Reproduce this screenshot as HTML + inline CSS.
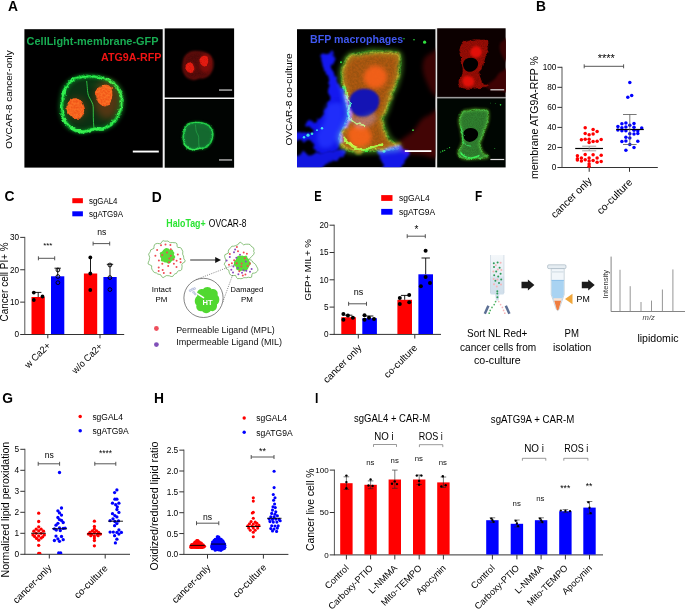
<!DOCTYPE html>
<html lang="en"><head><meta charset="utf-8"><title>Figure</title>
<style>
html,body{margin:0;padding:0;background:#fff;}
body{width:685px;height:609px;overflow:hidden;}
svg{display:block;font-family:'Liberation Sans', sans-serif;}
</style></head>
<body>
<svg width="685" height="609" viewBox="0 0 685 609">
<rect width="685" height="609" fill="#fff"/>
<text x="8.00" y="11.10" font-size="13.8" font-weight="bold">A</text>
<text x="536.00" y="10.90" font-size="13.8" font-weight="bold">B</text>
<text x="4.60" y="200.80" font-size="13.8" font-weight="bold">C</text>
<text x="151.80" y="201.60" font-size="13.8" font-weight="bold">D</text>
<text x="314.20" y="200.50" font-size="13.8" font-weight="bold" textLength="7.4" lengthAdjust="spacingAndGlyphs">E</text>
<text x="475.00" y="201.00" font-size="13.8" font-weight="bold" textLength="7.2" lengthAdjust="spacingAndGlyphs">F</text>
<text x="2.20" y="403.20" font-size="13.8" font-weight="bold">G</text>
<text x="153.90" y="403.30" font-size="13.8" font-weight="bold">H</text>
<text x="315.00" y="403.30" font-size="13.8" font-weight="bold" textLength="3.4" lengthAdjust="spacingAndGlyphs">I</text>
<defs>
<filter color-interpolation-filters="sRGB" id="redonly" x="0" y="0" width="100%" height="100%"><feColorMatrix type="matrix" values="0.95 0 0 0 0  0 0.3 0 0 0  0 0 0.6 0 0  0 0 0 1 0"/></filter>
<filter color-interpolation-filters="sRGB" id="fb05" x="-20%" y="-20%" width="140%" height="140%"><feGaussianBlur stdDeviation="0.5"/></filter>
<filter color-interpolation-filters="sRGB" id="fb1" x="-20%" y="-20%" width="140%" height="140%"><feGaussianBlur stdDeviation="1"/></filter>
<filter color-interpolation-filters="sRGB" id="fb2" x="-30%" y="-30%" width="160%" height="160%"><feGaussianBlur stdDeviation="2"/></filter>
<filter color-interpolation-filters="sRGB" id="fb4" x="-40%" y="-40%" width="180%" height="180%"><feGaussianBlur stdDeviation="4"/></filter>
<filter color-interpolation-filters="sRGB" id="rough" x="-20%" y="-20%" width="140%" height="140%"><feTurbulence type="fractalNoise" baseFrequency="0.18" numOctaves="2" seed="3" result="n"/><feDisplacementMap in="SourceGraphic" in2="n" scale="5" xChannelSelector="R" yChannelSelector="G"/><feGaussianBlur stdDeviation="0.55"/></filter>
<filter color-interpolation-filters="sRGB" id="rough2" x="-20%" y="-20%" width="140%" height="140%"><feTurbulence type="fractalNoise" baseFrequency="0.09" numOctaves="3" seed="11" result="n"/><feDisplacementMap in="SourceGraphic" in2="n" scale="9" xChannelSelector="R" yChannelSelector="G"/><feGaussianBlur stdDeviation="0.8"/></filter>
<filter color-interpolation-filters="sRGB" id="spiky" x="-20%" y="-20%" width="140%" height="140%"><feTurbulence type="fractalNoise" baseFrequency="0.33" numOctaves="2" seed="8" result="n"/><feDisplacementMap in="SourceGraphic" in2="n" scale="7" xChannelSelector="R" yChannelSelector="G"/><feGaussianBlur stdDeviation="0.5"/></filter>
<filter color-interpolation-filters="sRGB" id="speck" x="-10%" y="-10%" width="120%" height="120%"><feTurbulence type="fractalNoise" baseFrequency="0.45" numOctaves="2" seed="5" result="n"/><feColorMatrix in="n" type="matrix" values="0 0 0 0 0  0 0 0 0 0  0 0 0 0 0  2.6 0 0 0 -0.75" result="a"/><feComposite in="SourceGraphic" in2="a" operator="in"/><feGaussianBlur stdDeviation="0.45"/></filter>

<g id="c1g" transform="translate(67.6 75.0) scale(0.94 0.875) translate(-68.1 -77)">
<path d="M37.0 70.0C37.7 66.0 38.2 61.5 40.0 58.0C41.8 54.5 44.7 51.1 48.0 49.0C51.3 46.9 55.7 46.0 60.0 45.5C64.3 45.0 69.7 45.3 74.0 46.0C78.3 46.7 82.7 47.8 86.0 49.5C89.3 51.2 91.8 53.2 94.0 56.0C96.2 58.8 98.1 62.3 99.0 66.0C99.9 69.7 99.9 74.2 99.5 78.0C99.1 81.8 98.1 85.5 96.5 89.0C94.9 92.5 92.8 96.3 90.0 99.0C87.2 101.7 83.3 103.9 80.0 105.0C76.7 106.1 73.7 104.9 70.0 105.5C66.3 106.1 62.0 108.7 58.0 108.5C54.0 108.3 49.2 106.9 46.0 104.5C42.8 102.1 40.2 97.8 38.5 94.0C36.8 90.2 36.2 86.0 36.0 82.0C35.8 78.0 36.3 74.0 37.0 70.0Z" fill="#0b3012" filter="url(#fb1)"/>
<path d="M37.0 70.0C37.7 66.0 38.2 61.5 40.0 58.0C41.8 54.5 44.7 51.1 48.0 49.0C51.3 46.9 55.7 46.0 60.0 45.5C64.3 45.0 69.7 45.3 74.0 46.0C78.3 46.7 82.7 47.8 86.0 49.5C89.3 51.2 91.8 53.2 94.0 56.0C96.2 58.8 98.1 62.3 99.0 66.0C99.9 69.7 99.9 74.2 99.5 78.0C99.1 81.8 98.1 85.5 96.5 89.0C94.9 92.5 92.8 96.3 90.0 99.0C87.2 101.7 83.3 103.9 80.0 105.0C76.7 106.1 73.7 104.9 70.0 105.5C66.3 106.1 62.0 108.7 58.0 108.5C54.0 108.3 49.2 106.9 46.0 104.5C42.8 102.1 40.2 97.8 38.5 94.0C36.8 90.2 36.2 86.0 36.0 82.0C35.8 78.0 36.3 74.0 37.0 70.0Z" fill="none" stroke="#0a7a22" stroke-width="6" filter="url(#fb2)" opacity="0.75"/>
<path d="M37.0 70.0C37.7 66.0 38.2 61.5 40.0 58.0C41.8 54.5 44.7 51.1 48.0 49.0C51.3 46.9 55.7 46.0 60.0 45.5C64.3 45.0 69.7 45.3 74.0 46.0C78.3 46.7 82.7 47.8 86.0 49.5C89.3 51.2 91.8 53.2 94.0 56.0C96.2 58.8 98.1 62.3 99.0 66.0C99.9 69.7 99.9 74.2 99.5 78.0C99.1 81.8 98.1 85.5 96.5 89.0C94.9 92.5 92.8 96.3 90.0 99.0C87.2 101.7 83.3 103.9 80.0 105.0C76.7 106.1 73.7 104.9 70.0 105.5C66.3 106.1 62.0 108.7 58.0 108.5C54.0 108.3 49.2 106.9 46.0 104.5C42.8 102.1 40.2 97.8 38.5 94.0C36.8 90.2 36.2 86.0 36.0 82.0C35.8 78.0 36.3 74.0 37.0 70.0Z" fill="none" stroke="#0fae30" stroke-width="4.2" filter="url(#speck)"/>
<path d="M37.0 70.0C37.7 66.0 38.2 61.5 40.0 58.0C41.8 54.5 44.7 51.1 48.0 49.0C51.3 46.9 55.7 46.0 60.0 45.5C64.3 45.0 69.7 45.3 74.0 46.0C78.3 46.7 82.7 47.8 86.0 49.5C89.3 51.2 91.8 53.2 94.0 56.0C96.2 58.8 98.1 62.3 99.0 66.0C99.9 69.7 99.9 74.2 99.5 78.0C99.1 81.8 98.1 85.5 96.5 89.0C94.9 92.5 92.8 96.3 90.0 99.0C87.2 101.7 83.3 103.9 80.0 105.0C76.7 106.1 73.7 104.9 70.0 105.5C66.3 106.1 62.0 108.7 58.0 108.5C54.0 108.3 49.2 106.9 46.0 104.5C42.8 102.1 40.2 97.8 38.5 94.0C36.8 90.2 36.2 86.0 36.0 82.0C35.8 78.0 36.3 74.0 37.0 70.0Z" fill="none" stroke="#18c038" stroke-width="2.4" filter="url(#spiky)" opacity="0.9"/>
<path d="M37.0 70.0C37.7 66.0 38.2 61.5 40.0 58.0C41.8 54.5 44.7 51.1 48.0 49.0C51.3 46.9 55.7 46.0 60.0 45.5C64.3 45.0 69.7 45.3 74.0 46.0C78.3 46.7 82.7 47.8 86.0 49.5C89.3 51.2 91.8 53.2 94.0 56.0C96.2 58.8 98.1 62.3 99.0 66.0C99.9 69.7 99.9 74.2 99.5 78.0C99.1 81.8 98.1 85.5 96.5 89.0C94.9 92.5 92.8 96.3 90.0 99.0C87.2 101.7 83.3 103.9 80.0 105.0C76.7 106.1 73.7 104.9 70.0 105.5C66.3 106.1 62.0 108.7 58.0 108.5C54.0 108.3 49.2 106.9 46.0 104.5C42.8 102.1 40.2 97.8 38.5 94.0C36.8 90.2 36.2 86.0 36.0 82.0C35.8 78.0 36.3 74.0 37.0 70.0Z" fill="none" stroke="#30f050" stroke-width="1.7" filter="url(#rough)"/>
<path d="M37.5 93C41 102 49 108 58 108.6C64 108 70 105 75 105.4" fill="none" stroke="#38f050" stroke-width="2.6" filter="url(#rough)"/>
<path d="M62.4 50.4C63.5 60 63 64 64.9 68.5C67 73 69.2 76 69.4 80C69.6 88 69.2 96 70.2 104" fill="none" stroke="#2fd048" stroke-width="1.0" filter="url(#fb05)"/>
<path d="M66 52C78 50 90 56 93 66C88 60 78 56 66 58Z" fill="#0c3a14" filter="url(#fb2)"/>
</g>
<g id="c1r" transform="translate(67.6 75.0) scale(0.94 0.875) translate(-68.1 -77)">
<ellipse cx="84" cy="72" rx="13.5" ry="22" fill="#5a0a02" filter="url(#fb4)" opacity="0.85"/>
<ellipse cx="52" cy="82" rx="11" ry="13" fill="#4a0c02" filter="url(#fb4)" opacity="0.7"/>
<path d="M41 78C44 70 52 67.5 56.5 74C60 81 62 90 56 93C49 95.5 40 90 41 78Z" fill="#f03008" filter="url(#rough)"/>
<path d="M71 64C74 56 82 52 88 57C91 62 90 72 86 78C82 82 76 78 73 72Z" fill="#f03008" filter="url(#rough)"/>
<path d="M41 78C44 70 52 67.5 56.5 74C60 81 62 90 56 93C49 95.5 40 90 41 78Z" fill="#ff5a18" filter="url(#speck)" opacity="0.7"/>
<path d="M71 64C74 56 82 52 88 57C91 62 90 72 86 78C82 82 76 78 73 72Z" fill="#ff5a18" filter="url(#speck)" opacity="0.7"/>
</g>
<g id="c1ring" transform="translate(67.6 75.0) scale(0.94 0.875) translate(-68.1 -77)"><path d="M37.0 70.0C37.7 66.0 38.2 61.5 40.0 58.0C41.8 54.5 44.7 51.1 48.0 49.0C51.3 46.9 55.7 46.0 60.0 45.5C64.3 45.0 69.7 45.3 74.0 46.0C78.3 46.7 82.7 47.8 86.0 49.5C89.3 51.2 91.8 53.2 94.0 56.0C96.2 58.8 98.1 62.3 99.0 66.0C99.9 69.7 99.9 74.2 99.5 78.0C99.1 81.8 98.1 85.5 96.5 89.0C94.9 92.5 92.8 96.3 90.0 99.0C87.2 101.7 83.3 103.9 80.0 105.0C76.7 106.1 73.7 104.9 70.0 105.5C66.3 106.1 62.0 108.7 58.0 108.5C54.0 108.3 49.2 106.9 46.0 104.5C42.8 102.1 40.2 97.8 38.5 94.0C36.8 90.2 36.2 86.0 36.0 82.0C35.8 78.0 36.3 74.0 37.0 70.0Z" fill="#4c0908" stroke="#8a1410" stroke-width="2.6" filter="url(#fb2)"/><path d="M37.0 70.0C37.7 66.0 38.2 61.5 40.0 58.0C41.8 54.5 44.7 51.1 48.0 49.0C51.3 46.9 55.7 46.0 60.0 45.5C64.3 45.0 69.7 45.3 74.0 46.0C78.3 46.7 82.7 47.8 86.0 49.5C89.3 51.2 91.8 53.2 94.0 56.0C96.2 58.8 98.1 62.3 99.0 66.0C99.9 69.7 99.9 74.2 99.5 78.0C99.1 81.8 98.1 85.5 96.5 89.0C94.9 92.5 92.8 96.3 90.0 99.0C87.2 101.7 83.3 103.9 80.0 105.0C76.7 106.1 73.7 104.9 70.0 105.5C66.3 106.1 62.0 108.7 58.0 108.5C54.0 108.3 49.2 106.9 46.0 104.5C42.8 102.1 40.2 97.8 38.5 94.0C36.8 90.2 36.2 86.0 36.0 82.0C35.8 78.0 36.3 74.0 37.0 70.0Z" fill="#5a0c0a" filter="url(#speck)" opacity="0.8"/></g>
<g id="c1gx" transform="translate(67.6 75.0) scale(0.94 0.875) translate(-68.1 -77)"><path d="M37.0 70.0C37.7 66.0 38.2 61.5 40.0 58.0C41.8 54.5 44.7 51.1 48.0 49.0C51.3 46.9 55.7 46.0 60.0 45.5C64.3 45.0 69.7 45.3 74.0 46.0C78.3 46.7 82.7 47.8 86.0 49.5C89.3 51.2 91.8 53.2 94.0 56.0C96.2 58.8 98.1 62.3 99.0 66.0C99.9 69.7 99.9 74.2 99.5 78.0C99.1 81.8 98.1 85.5 96.5 89.0C94.9 92.5 92.8 96.3 90.0 99.0C87.2 101.7 83.3 103.9 80.0 105.0C76.7 106.1 73.7 104.9 70.0 105.5C66.3 106.1 62.0 108.7 58.0 108.5C54.0 108.3 49.2 106.9 46.0 104.5C42.8 102.1 40.2 97.8 38.5 94.0C36.8 90.2 36.2 86.0 36.0 82.0C35.8 78.0 36.3 74.0 37.0 70.0Z" fill="#0a4a20" filter="url(#fb1)"/></g>
<clipPath id="cpA1"><rect x="0" y="0" width="140.4" height="139.8"/></clipPath>
<clipPath id="cpA2"><rect x="0" y="0" width="138.4" height="138"/></clipPath>

<g id="c2b">
<path d="M24.2 27.5C24.6 26.1 25.3 24.0 27.0 23.4C28.7 22.8 33.2 22.5 34.6 23.6C36.0 24.7 35.4 27.6 35.6 30.0C35.8 32.4 35.7 35.3 36.0 38.0C36.3 40.7 36.5 43.3 37.2 46.0C38.0 48.7 39.0 51.5 40.5 54.0C42.0 56.5 44.1 59.0 46.0 61.0C47.9 63.0 50.4 63.8 52.0 66.0C53.6 68.2 54.8 71.0 55.5 74.0C56.2 77.0 56.6 80.7 56.0 84.0C55.4 87.3 53.8 91.2 52.0 94.0C50.2 96.8 47.7 100.2 45.0 101.0C42.3 101.8 38.3 100.8 36.0 99.0C33.7 97.2 31.8 93.8 31.0 90.0C30.2 86.2 31.2 80.7 31.5 76.0C31.8 71.3 32.8 66.3 32.5 62.0C32.2 57.7 30.9 53.7 30.0 50.0C29.1 46.3 27.9 43.0 27.0 40.0C26.1 37.0 25.3 34.1 24.8 32.0C24.3 29.9 23.8 28.9 24.2 27.5Z" fill="#1418f0" filter="url(#rough2)"/>
<path d="M31.0 72.0C34.0 70.7 43.8 68.7 47.0 70.0C50.2 71.3 50.0 76.7 50.0 80.0C50.0 83.3 48.0 86.7 47.0 90.0C46.0 93.3 44.2 97.0 44.0 100.0C43.8 103.0 46.0 105.3 46.0 108.0C46.0 110.7 45.3 113.7 44.0 116.0C42.7 118.3 40.7 120.7 38.0 122.0C35.3 123.3 31.0 124.0 28.0 124.0C25.0 124.0 22.0 123.7 20.0 122.0C18.0 120.3 17.5 115.9 16.0 114.0C14.5 112.1 14.3 110.9 11.0 110.5C7.7 110.1 -1.5 112.4 -4.0 111.5C-6.5 110.6 -6.2 106.3 -4.0 105.0C-1.8 103.7 5.7 104.4 9.0 103.5C12.3 102.6 15.8 100.7 16.0 99.5C16.2 98.3 10.9 97.8 10.0 96.5C9.1 95.2 8.8 92.9 10.5 92.0C12.2 91.1 17.4 92.0 20.0 91.0C22.6 90.0 24.5 88.2 26.0 86.0C27.5 83.8 28.2 80.3 29.0 78.0C29.8 75.7 28.0 73.3 31.0 72.0Z" fill="#1014e8" filter="url(#rough2)"/>
<path d="M-5.0 126.5C-2.5 122.9 5.0 125.1 10.0 124.5C15.0 123.9 20.0 123.7 25.0 123.0C30.0 122.3 36.2 120.8 40.0 120.5C43.8 120.2 46.7 120.1 47.5 121.0C48.3 121.9 47.1 124.2 45.0 126.0C42.9 127.8 38.3 129.3 35.0 131.5C31.7 133.7 27.2 136.6 25.0 139.0C22.8 141.4 27.0 144.8 22.0 146.0C17.0 147.2 -0.5 149.2 -5.0 146.0C-9.5 142.8 -7.5 130.1 -5.0 126.5Z" fill="#1216e0" filter="url(#rough2)"/>
<path d="M82.0 120.5C83.8 119.1 91.2 118.9 95.0 118.5C98.8 118.1 102.3 117.6 105.0 118.0C107.7 118.4 109.5 119.8 111.0 121.0C112.5 122.2 114.2 123.3 114.0 125.0C113.8 126.7 111.7 128.7 110.0 131.0C108.3 133.3 105.3 136.5 104.0 139.0C102.7 141.5 105.3 144.8 102.0 146.0C98.7 147.2 86.8 148.0 84.0 146.0C81.2 144.0 85.0 137.2 85.0 134.0C85.0 130.8 84.5 129.2 84.0 127.0C83.5 124.8 80.2 121.9 82.0 120.5Z" fill="#1418e8" filter="url(#rough2)"/>
<path d="M52.0 74.0C51.8 71.3 52.7 68.2 54.0 66.0C55.3 63.8 57.7 62.1 60.0 61.0C62.3 59.9 65.3 59.4 68.0 59.5C70.7 59.6 73.8 60.2 76.0 61.5C78.2 62.8 80.5 64.8 81.5 67.0C82.5 69.2 82.6 72.5 82.0 75.0C81.4 77.5 80.0 80.0 78.0 82.0C76.0 84.0 72.8 86.2 70.0 87.0C67.2 87.8 63.5 87.8 61.0 87.0C58.5 86.2 56.5 84.2 55.0 82.0C53.5 79.8 52.2 76.7 52.0 74.0Z" fill="#1414b4" filter="url(#fb1)"/>
<path d="M30.0 76.0C32.8 73.0 41.3 72.0 44.0 74.0C46.7 76.0 46.3 83.3 46.0 88.0C45.7 92.7 43.7 97.3 42.0 102.0C40.3 106.7 39.0 113.3 36.0 116.0C33.0 118.7 26.7 119.7 24.0 118.0C21.3 116.3 19.5 110.3 20.0 106.0C20.5 101.7 25.3 97.0 27.0 92.0C28.7 87.0 27.2 79.0 30.0 76.0Z" fill="#2434ff" filter="url(#fb2)" opacity="0.8"/>
<path d="M54.3 88.1C55.4 86.2 62.3 87.4 66.0 86.5C69.8 85.6 74.5 82.1 76.6 82.7C78.8 83.4 79.9 88.0 78.9 90.5C78.0 92.9 74.0 96.2 70.7 97.5C67.5 98.8 62.2 99.8 59.5 98.2C56.7 96.7 53.2 90.1 54.3 88.1Z" fill="#4858b0" filter="url(#fb2)" opacity="0.5"/>
</g>
<g id="c2r">
<path d="M127.0 30.0C128.3 27.0 131.0 25.3 134.0 24.0C137.0 22.7 143.2 15.0 145.0 22.0C146.8 29.0 146.5 59.0 145.0 66.0C143.5 73.0 138.3 65.7 136.0 64.0C133.7 62.3 132.7 59.7 131.0 56.0C129.3 52.3 126.7 46.3 126.0 42.0C125.3 37.7 125.7 33.0 127.0 30.0Z" fill="#3a0404" filter="url(#fb2)"/>
<path d="M145.0 82.0C142.8 75.3 135.5 84.5 132.0 86.0C128.5 87.5 126.7 88.3 124.0 91.0C121.3 93.7 119.2 98.8 116.0 102.0C112.8 105.2 107.8 107.6 105.0 110.0C102.2 112.4 98.5 114.2 99.0 116.5C99.5 118.8 103.7 122.5 108.0 124.0C112.3 125.5 118.8 125.2 125.0 125.5C131.2 125.8 141.7 133.2 145.0 126.0C148.3 118.8 147.2 88.7 145.0 82.0Z" fill="#420505" filter="url(#fb2)"/>
<path d="M54.3 26.0C57.0 24.5 61.4 24.7 64.9 24.1C68.4 23.5 71.5 22.6 75.4 22.4C79.3 22.3 84.0 22.7 88.3 23.1C92.6 23.5 98.8 22.7 101.2 24.8C103.7 26.8 102.8 32.0 102.9 35.3C103.0 38.7 102.7 41.2 101.9 44.7C101.2 48.2 99.8 52.9 98.4 56.5C97.1 60.1 95.1 62.6 93.7 66.3C92.3 70.0 91.4 74.7 90.0 78.7C88.6 82.8 85.7 86.8 85.3 90.5C84.9 94.2 86.5 97.7 87.6 101.0C88.8 104.4 90.0 107.6 92.3 110.4C94.7 113.2 102.2 116.3 101.7 117.9C101.2 119.6 93.9 119.7 89.5 120.3C85.1 120.8 80.1 121.0 75.4 121.2C70.7 121.5 65.7 121.9 61.4 121.7C57.0 121.5 52.7 121.9 49.6 119.8C46.6 117.7 43.4 113.0 43.0 109.3C42.7 105.5 46.3 101.4 47.7 97.5C49.1 93.6 51.1 89.7 51.5 85.8C51.9 81.9 50.6 78.1 50.1 74.1C49.5 70.0 49.0 65.1 48.2 61.6C47.5 58.1 46.2 55.9 45.6 52.9C45.1 49.9 44.5 46.9 44.9 43.6C45.4 40.2 46.9 35.9 48.4 33.0C50.0 30.1 51.6 27.4 54.3 26.0Z" fill="#8a2206" filter="url(#rough2)"/>
<path d="M54.3 26.0C57.0 24.5 61.4 24.7 64.9 24.1C68.4 23.5 71.5 22.6 75.4 22.4C79.3 22.3 84.0 22.7 88.3 23.1C92.6 23.5 98.8 22.7 101.2 24.8C103.7 26.8 102.8 32.0 102.9 35.3C103.0 38.7 102.7 41.2 101.9 44.7C101.2 48.2 99.8 52.9 98.4 56.5C97.1 60.1 95.1 62.6 93.7 66.3C92.3 70.0 91.4 74.7 90.0 78.7C88.6 82.8 85.7 86.8 85.3 90.5C84.9 94.2 86.5 97.7 87.6 101.0C88.8 104.4 90.0 107.6 92.3 110.4C94.7 113.2 102.2 116.3 101.7 117.9C101.2 119.6 93.9 119.7 89.5 120.3C85.1 120.8 80.1 121.0 75.4 121.2C70.7 121.5 65.7 121.9 61.4 121.7C57.0 121.5 52.7 121.9 49.6 119.8C46.6 117.7 43.4 113.0 43.0 109.3C42.7 105.5 46.3 101.4 47.7 97.5C49.1 93.6 51.1 89.7 51.5 85.8C51.9 81.9 50.6 78.1 50.1 74.1C49.5 70.0 49.0 65.1 48.2 61.6C47.5 58.1 46.2 55.9 45.6 52.9C45.1 49.9 44.5 46.9 44.9 43.6C45.4 40.2 46.9 35.9 48.4 33.0C50.0 30.1 51.6 27.4 54.3 26.0Z" fill="#b83208" filter="url(#speck)" opacity="0.5"/>
<path d="M68.4 42.4C69.9 40.2 72.7 37.2 75.4 36.5C78.2 35.8 82.4 36.6 84.8 38.2C87.2 39.7 89.6 43.0 90.0 45.9C90.4 48.8 89.0 53.1 87.2 55.3C85.3 57.5 81.7 59.1 78.9 59.3C76.2 59.5 72.8 58.0 70.7 56.5C68.7 54.9 66.9 52.2 66.5 49.9C66.1 47.5 66.9 44.6 68.4 42.4Z" fill="#f83410" filter="url(#fb2)" opacity="0.9"/>
<path d="M50.8 103.4C51.4 100.3 54.9 97.3 57.8 96.3C60.8 95.4 65.7 96.1 68.4 97.5C71.1 98.9 73.6 101.8 74.3 104.6C75.0 107.3 74.4 111.7 72.6 113.9C70.9 116.2 66.7 117.7 63.7 117.9C60.6 118.1 56.5 117.5 54.3 115.1C52.2 112.7 50.2 106.5 50.8 103.4Z" fill="#f83810" filter="url(#fb2)" opacity="0.9"/>
<path d="M52.0 74.0C51.8 71.3 52.7 68.2 54.0 66.0C55.3 63.8 57.7 62.1 60.0 61.0C62.3 59.9 65.3 59.4 68.0 59.5C70.7 59.6 73.8 60.2 76.0 61.5C78.2 62.8 80.5 64.8 81.5 67.0C82.5 69.2 82.6 72.5 82.0 75.0C81.4 77.5 80.0 80.0 78.0 82.0C76.0 84.0 72.8 86.2 70.0 87.0C67.2 87.8 63.5 87.8 61.0 87.0C58.5 86.2 56.5 84.2 55.0 82.0C53.5 79.8 52.2 76.7 52.0 74.0Z" fill="#000" filter="url(#fb1)"/>
</g>
<g id="c2g">
<path d="M54.3 26.0C57.0 24.5 61.4 24.7 64.9 24.1C68.4 23.5 71.5 22.6 75.4 22.4C79.3 22.3 84.0 22.7 88.3 23.1C92.6 23.5 98.8 22.7 101.2 24.8C103.7 26.8 102.8 32.0 102.9 35.3C103.0 38.7 102.7 41.2 101.9 44.7C101.2 48.2 99.8 52.9 98.4 56.5C97.1 60.1 95.1 62.6 93.7 66.3C92.3 70.0 91.4 74.7 90.0 78.7C88.6 82.8 85.7 86.8 85.3 90.5C84.9 94.2 86.5 97.7 87.6 101.0C88.8 104.4 90.0 107.6 92.3 110.4C94.7 113.2 102.2 116.3 101.7 117.9C101.2 119.6 93.9 119.7 89.5 120.3C85.1 120.8 80.1 121.0 75.4 121.2C70.7 121.5 65.7 121.9 61.4 121.7C57.0 121.5 52.7 121.9 49.6 119.8C46.6 117.7 43.4 113.0 43.0 109.3C42.7 105.5 46.3 101.4 47.7 97.5C49.1 93.6 51.1 89.7 51.5 85.8C51.9 81.9 50.6 78.1 50.1 74.1C49.5 70.0 49.0 65.1 48.2 61.6C47.5 58.1 46.2 55.9 45.6 52.9C45.1 49.9 44.5 46.9 44.9 43.6C45.4 40.2 46.9 35.9 48.4 33.0C50.0 30.1 51.6 27.4 54.3 26.0Z" fill="#22380a" filter="url(#rough2)"/>
<path d="M54.3 26.0C57.0 24.5 61.4 24.7 64.9 24.1C68.4 23.5 71.5 22.6 75.4 22.4C79.3 22.3 84.0 22.7 88.3 23.1C92.6 23.5 98.8 22.7 101.2 24.8C103.7 26.8 102.8 32.0 102.9 35.3C103.0 38.7 102.7 41.2 101.9 44.7C101.2 48.2 99.8 52.9 98.4 56.5C97.1 60.1 95.1 62.6 93.7 66.3C92.3 70.0 91.4 74.7 90.0 78.7C88.6 82.8 85.7 86.8 85.3 90.5C84.9 94.2 86.5 97.7 87.6 101.0C88.8 104.4 90.0 107.6 92.3 110.4C94.7 113.2 102.2 116.3 101.7 117.9C101.2 119.6 93.9 119.7 89.5 120.3C85.1 120.8 80.1 121.0 75.4 121.2C70.7 121.5 65.7 121.9 61.4 121.7C57.0 121.5 52.7 121.9 49.6 119.8C46.6 117.7 43.4 113.0 43.0 109.3C42.7 105.5 46.3 101.4 47.7 97.5C49.1 93.6 51.1 89.7 51.5 85.8C51.9 81.9 50.6 78.1 50.1 74.1C49.5 70.0 49.0 65.1 48.2 61.6C47.5 58.1 46.2 55.9 45.6 52.9C45.1 49.9 44.5 46.9 44.9 43.6C45.4 40.2 46.9 35.9 48.4 33.0C50.0 30.1 51.6 27.4 54.3 26.0Z" fill="none" stroke="#3a7418" stroke-width="7" filter="url(#fb2)" opacity="0.75"/>
<path d="M54.3 26.0C57.0 24.5 61.4 24.7 64.9 24.1C68.4 23.5 71.5 22.6 75.4 22.4C79.3 22.3 84.0 22.7 88.3 23.1C92.6 23.5 98.8 22.7 101.2 24.8C103.7 26.8 102.8 32.0 102.9 35.3C103.0 38.7 102.7 41.2 101.9 44.7C101.2 48.2 99.8 52.9 98.4 56.5C97.1 60.1 95.1 62.6 93.7 66.3C92.3 70.0 91.4 74.7 90.0 78.7C88.6 82.8 85.7 86.8 85.3 90.5C84.9 94.2 86.5 97.7 87.6 101.0C88.8 104.4 90.0 107.6 92.3 110.4C94.7 113.2 102.2 116.3 101.7 117.9C101.2 119.6 93.9 119.7 89.5 120.3C85.1 120.8 80.1 121.0 75.4 121.2C70.7 121.5 65.7 121.9 61.4 121.7C57.0 121.5 52.7 121.9 49.6 119.8C46.6 117.7 43.4 113.0 43.0 109.3C42.7 105.5 46.3 101.4 47.7 97.5C49.1 93.6 51.1 89.7 51.5 85.8C51.9 81.9 50.6 78.1 50.1 74.1C49.5 70.0 49.0 65.1 48.2 61.6C47.5 58.1 46.2 55.9 45.6 52.9C45.1 49.9 44.5 46.9 44.9 43.6C45.4 40.2 46.9 35.9 48.4 33.0C50.0 30.1 51.6 27.4 54.3 26.0Z" fill="none" stroke="#3a8a20" stroke-width="1.6" filter="url(#rough2)" opacity="0.8"/>
<path d="M54.3 26.0C57.0 24.5 61.4 24.7 64.9 24.1C68.4 23.5 71.5 22.6 75.4 22.4C79.3 22.3 84.0 22.7 88.3 23.1C92.6 23.5 98.8 22.7 101.2 24.8C103.7 26.8 102.8 32.0 102.9 35.3C103.0 38.7 102.7 41.2 101.9 44.7C101.2 48.2 99.8 52.9 98.4 56.5C97.1 60.1 95.1 62.6 93.7 66.3C92.3 70.0 91.4 74.7 90.0 78.7C88.6 82.8 85.7 86.8 85.3 90.5C84.9 94.2 86.5 97.7 87.6 101.0C88.8 104.4 90.0 107.6 92.3 110.4C94.7 113.2 102.2 116.3 101.7 117.9C101.2 119.6 93.9 119.7 89.5 120.3C85.1 120.8 80.1 121.0 75.4 121.2C70.7 121.5 65.7 121.9 61.4 121.7C57.0 121.5 52.7 121.9 49.6 119.8C46.6 117.7 43.4 113.0 43.0 109.3C42.7 105.5 46.3 101.4 47.7 97.5C49.1 93.6 51.1 89.7 51.5 85.8C51.9 81.9 50.6 78.1 50.1 74.1C49.5 70.0 49.0 65.1 48.2 61.6C47.5 58.1 46.2 55.9 45.6 52.9C45.1 49.9 44.5 46.9 44.9 43.6C45.4 40.2 46.9 35.9 48.4 33.0C50.0 30.1 51.6 27.4 54.3 26.0Z" fill="none" stroke="#48b030" stroke-width="3.4" filter="url(#speck)" opacity="0.7"/>
<path d="M52.0 74.0C51.8 71.3 52.7 68.2 54.0 66.0C55.3 63.8 57.7 62.1 60.0 61.0C62.3 59.9 65.3 59.4 68.0 59.5C70.7 59.6 73.8 60.2 76.0 61.5C78.2 62.8 80.5 64.8 81.5 67.0C82.5 69.2 82.6 72.5 82.0 75.0C81.4 77.5 80.0 80.0 78.0 82.0C76.0 84.0 72.8 86.2 70.0 87.0C67.2 87.8 63.5 87.8 61.0 87.0C58.5 86.2 56.5 84.2 55.0 82.0C53.5 79.8 52.2 76.7 52.0 74.0Z" fill="#000" filter="url(#fb1)"/>
<path d="M46.1 108.1C47.5 109.4 51.0 114.3 54.3 116.3C57.6 118.3 62.1 120.0 66.0 120.3C70.0 120.6 74.6 118.8 77.8 117.9C81.0 117.1 84.0 115.6 85.3 115.1" fill="none" stroke="#30f040" stroke-width="3" filter="url(#rough)"/>
<path d="M46.8 56.5C47.4 58.0 49.1 62.7 50.1 65.8C51.0 69.0 52.3 72.1 52.4 75.2C52.6 78.4 50.0 81.6 51.0 84.6C52.0 87.7 55.6 91.6 58.5 93.5C61.4 95.5 66.7 95.9 68.4 96.3" fill="none" stroke="#30e050" stroke-width="1.8" filter="url(#rough)"/>
<g fill="#30e040" filter="url(#fb05)"><circle cx="11" cy="106" r="1.6"/><circle cx="15" cy="104.5" r="1.3"/><circle cx="7" cy="108" r="1.2"/><circle cx="25" cy="99" r="1.2"/><circle cx="20" cy="101" r="0.9"/><circle cx="127.6" cy="13" r="1.6"/><circle cx="117" cy="10.5" r="0.8"/><circle cx="107" cy="9.5" r="0.7"/><circle cx="44" cy="33" r="1.0"/><circle cx="116" cy="101" r="0.9"/><circle cx="87" cy="122" r="1.5"/></g>
</g>

<g id="c2gx"><path d="M54.3 26.0C57.0 24.5 61.4 24.7 64.9 24.1C68.4 23.5 71.5 22.6 75.4 22.4C79.3 22.3 84.0 22.7 88.3 23.1C92.6 23.5 98.8 22.7 101.2 24.8C103.7 26.8 102.8 32.0 102.9 35.3C103.0 38.7 102.7 41.2 101.9 44.7C101.2 48.2 99.8 52.9 98.4 56.5C97.1 60.1 95.1 62.6 93.7 66.3C92.3 70.0 91.4 74.7 90.0 78.7C88.6 82.8 85.7 86.8 85.3 90.5C84.9 94.2 86.5 97.7 87.6 101.0C88.8 104.4 90.0 107.6 92.3 110.4C94.7 113.2 102.2 116.3 101.7 117.9C101.2 119.6 93.9 119.7 89.5 120.3C85.1 120.8 80.1 121.0 75.4 121.2C70.7 121.5 65.7 121.9 61.4 121.7C57.0 121.5 52.7 121.9 49.6 119.8C46.6 117.7 43.4 113.0 43.0 109.3C42.7 105.5 46.3 101.4 47.7 97.5C49.1 93.6 51.1 89.7 51.5 85.8C51.9 81.9 50.6 78.1 50.1 74.1C49.5 70.0 49.0 65.1 48.2 61.6C47.5 58.1 46.2 55.9 45.6 52.9C45.1 49.9 44.5 46.9 44.9 43.6C45.4 40.2 46.9 35.9 48.4 33.0C50.0 30.1 51.6 27.4 54.3 26.0Z" fill="#0b4a20" filter="url(#rough2)"/><path d="M54.3 26.0C57.0 24.5 61.4 24.7 64.9 24.1C68.4 23.5 71.5 22.6 75.4 22.4C79.3 22.3 84.0 22.7 88.3 23.1C92.6 23.5 98.8 22.7 101.2 24.8C103.7 26.8 102.8 32.0 102.9 35.3C103.0 38.7 102.7 41.2 101.9 44.7C101.2 48.2 99.8 52.9 98.4 56.5C97.1 60.1 95.1 62.6 93.7 66.3C92.3 70.0 91.4 74.7 90.0 78.7C88.6 82.8 85.7 86.8 85.3 90.5C84.9 94.2 86.5 97.7 87.6 101.0C88.8 104.4 90.0 107.6 92.3 110.4C94.7 113.2 102.2 116.3 101.7 117.9C101.2 119.6 93.9 119.7 89.5 120.3C85.1 120.8 80.1 121.0 75.4 121.2C70.7 121.5 65.7 121.9 61.4 121.7C57.0 121.5 52.7 121.9 49.6 119.8C46.6 117.7 43.4 113.0 43.0 109.3C42.7 105.5 46.3 101.4 47.7 97.5C49.1 93.6 51.1 89.7 51.5 85.8C51.9 81.9 50.6 78.1 50.1 74.1C49.5 70.0 49.0 65.1 48.2 61.6C47.5 58.1 46.2 55.9 45.6 52.9C45.1 49.9 44.5 46.9 44.9 43.6C45.4 40.2 46.9 35.9 48.4 33.0C50.0 30.1 51.6 27.4 54.3 26.0Z" fill="#1c8236" filter="url(#speck)" opacity="0.35"/><path d="M52.0 74.0C51.8 71.3 52.7 68.2 54.0 66.0C55.3 63.8 57.7 62.1 60.0 61.0C62.3 59.9 65.3 59.4 68.0 59.5C70.7 59.6 73.8 60.2 76.0 61.5C78.2 62.8 80.5 64.8 81.5 67.0C82.5 69.2 82.6 72.5 82.0 75.0C81.4 77.5 80.0 80.0 78.0 82.0C76.0 84.0 72.8 86.2 70.0 87.0C67.2 87.8 63.5 87.8 61.0 87.0C58.5 86.2 56.5 84.2 55.0 82.0C53.5 79.8 52.2 76.7 52.0 74.0Z" fill="#000" filter="url(#fb1)"/></g>
</defs>
<rect x="162.60" y="28.40" width="71.50" height="139.30" fill="#f4f4f4"/>
<rect x="435.30" y="28.30" width="70.40" height="139.20" fill="#e6e6e6"/>
<rect x="437.20" y="96.60" width="68.50" height="2.20" fill="#9c9c9c"/>
<g transform="translate(24.4 29.2)"><rect width="138.3" height="138.4" fill="#000"/><g clip-path="url(#cpA1)" transform="scale(1.0)" style="isolation:isolate"><use href="#c1g" style="mix-blend-mode:screen"/><use href="#c1r" style="mix-blend-mode:screen"/></g></g>
<g transform="translate(164.7 28.4)"><rect width="69.4" height="69.1" fill="#000"/><g clip-path="url(#cpA1)" transform="scale(0.4943)" style="isolation:isolate"><use href="#c1ring" style="mix-blend-mode:screen"/><use href="#c1r" style="mix-blend-mode:screen" opacity="0.9" filter="url(#redonly)"/></g></g>
<g transform="translate(164.7 99.0)"><rect width="69.4" height="68.7" fill="#010402"/><g clip-path="url(#cpA1)" transform="scale(0.4943)" style="isolation:isolate"><use href="#c1gx" style="mix-blend-mode:screen"/><use href="#c1g" style="mix-blend-mode:screen" opacity="0.9"/></g></g>
<g transform="translate(297.0 29.2)"><rect width="138.4" height="138.0" fill="#000"/><g clip-path="url(#cpA2)" transform="scale(1.0)" style="isolation:isolate"><use href="#c2b" style="mix-blend-mode:screen"/><use href="#c2r" style="mix-blend-mode:screen"/><use href="#c2g" style="mix-blend-mode:screen"/></g></g>
<g transform="translate(437.2 28.3)"><rect width="68.4" height="68.6" fill="#0c0000"/><g clip-path="url(#cpA2)" transform="scale(0.4964)" style="isolation:isolate"><use href="#c2r" style="mix-blend-mode:screen" filter="url(#redonly)"/></g></g>
<g transform="translate(437.2 98.4)"><rect width="68.4" height="69.0" fill="#000602"/><g clip-path="url(#cpA2)" transform="scale(0.4964)" style="isolation:isolate"><use href="#c2gx" style="mix-blend-mode:screen"/><use href="#c2g" style="mix-blend-mode:screen"/></g></g>
<rect x="132.80" y="150.60" width="26.00" height="1.90" fill="#fff"/>
<rect x="219.00" y="89.30" width="13.10" height="1.50" fill="#a8a8a8"/>
<rect x="219.00" y="159.20" width="13.10" height="1.50" fill="#a8a8a8"/>
<rect x="404.80" y="150.20" width="26.60" height="1.80" fill="#fff"/>
<rect x="490.40" y="89.20" width="13.80" height="1.20" fill="#e0e0e0"/>
<rect x="490.40" y="158.90" width="13.80" height="1.20" fill="#e0e0e0"/>
<text x="26.60" y="44.50" font-size="11.8" font-weight="bold" fill="#18ac52" textLength="132.0" lengthAdjust="spacingAndGlyphs">CellLight-membrane-GFP</text>
<text x="161.50" y="60.50" font-size="11.8" text-anchor="end" font-weight="bold" fill="#f01414" textLength="60.5" lengthAdjust="spacingAndGlyphs">ATG9A-RFP</text>
<text x="310.00" y="42.50" font-size="11.6" font-weight="bold" fill="#4058f0" textLength="93.2" lengthAdjust="spacingAndGlyphs">BFP macrophages</text>
<text x="12.30" y="148.80" font-size="9.9" transform="rotate(-90 12.30 148.80)" textLength="98.6" lengthAdjust="spacingAndGlyphs">OVCAR-8 cancer-only</text>
<text x="291.80" y="145.60" font-size="9.9" transform="rotate(-90 291.80 145.60)" textLength="92.3" lengthAdjust="spacingAndGlyphs">OVCAR-8 co-culture</text>
<path d="M562.0 66.8V167.5" stroke="#555" stroke-width="1.0" fill="none"/>
<path d="M561.5 167.5H657.8" stroke="#333" stroke-width="1.0" fill="none"/>
<line x1="557.40" y1="167.50" x2="562.00" y2="167.50" stroke="#333" stroke-width="1.0"/>
<text x="556.30" y="170.45" font-size="8.2" text-anchor="end">0</text>
<line x1="557.40" y1="147.46" x2="562.00" y2="147.46" stroke="#333" stroke-width="1.0"/>
<text x="556.30" y="150.41" font-size="8.2" text-anchor="end">20</text>
<line x1="557.40" y1="127.42" x2="562.00" y2="127.42" stroke="#333" stroke-width="1.0"/>
<text x="556.30" y="130.37" font-size="8.2" text-anchor="end">40</text>
<line x1="557.40" y1="107.38" x2="562.00" y2="107.38" stroke="#333" stroke-width="1.0"/>
<text x="556.30" y="110.33" font-size="8.2" text-anchor="end">60</text>
<line x1="557.40" y1="87.34" x2="562.00" y2="87.34" stroke="#333" stroke-width="1.0"/>
<text x="556.30" y="90.29" font-size="8.2" text-anchor="end">80</text>
<line x1="557.40" y1="67.30" x2="562.00" y2="67.30" stroke="#333" stroke-width="1.0"/>
<text x="556.30" y="70.25" font-size="8.2" text-anchor="end">100</text>
<line x1="589.20" y1="167.50" x2="589.20" y2="171.80" stroke="#333" stroke-width="1.0"/>
<line x1="629.50" y1="167.50" x2="629.50" y2="171.80" stroke="#333" stroke-width="1.0"/>
<text x="537.60" y="179.00" font-size="10.4" transform="rotate(-90 537.60 179.00)" textLength="123.0" lengthAdjust="spacingAndGlyphs">membrane ATG9A-RFP %</text>
<g fill="#ff0000"><circle cx="585.2" cy="127.8" r="1.75"/><circle cx="593.1" cy="129.5" r="1.75"/><circle cx="597.1" cy="131.6" r="1.75"/><circle cx="585.2" cy="133.4" r="1.75"/><circle cx="589.1" cy="134.7" r="1.75"/><circle cx="593.1" cy="134.1" r="1.75"/><circle cx="581.4" cy="139.8" r="1.75"/><circle cx="585.2" cy="139.3" r="1.75"/><circle cx="589.1" cy="139.3" r="1.75"/><circle cx="601.2" cy="139.5" r="1.75"/><circle cx="589.1" cy="142.4" r="1.75"/><circle cx="593.1" cy="141.6" r="1.75"/><circle cx="597.1" cy="141.2" r="1.75"/><circle cx="577.4" cy="155.7" r="1.75"/><circle cx="585.2" cy="154.5" r="1.75"/><circle cx="593.1" cy="154.8" r="1.75"/><circle cx="601.2" cy="155.3" r="1.75"/><circle cx="577.4" cy="158.8" r="1.75"/><circle cx="581.4" cy="157.9" r="1.75"/><circle cx="589.1" cy="157.9" r="1.75"/><circle cx="597.1" cy="157.9" r="1.75"/><circle cx="577.4" cy="160.0" r="1.75"/><circle cx="581.4" cy="160.9" r="1.75"/><circle cx="585.2" cy="159.7" r="1.75"/><circle cx="589.1" cy="160.9" r="1.75"/><circle cx="593.1" cy="160.5" r="1.75"/><circle cx="601.2" cy="161.4" r="1.75"/><circle cx="597.1" cy="162.2" r="1.75"/><circle cx="589.1" cy="164.0" r="1.75"/><circle cx="589.1" cy="166.2" r="1.75"/></g>
<g fill="#0000ff"><circle cx="629.8" cy="82.6" r="1.75"/><circle cx="631.7" cy="95.5" r="1.75"/><circle cx="627.8" cy="97.2" r="1.75"/><circle cx="621.9" cy="123.8" r="1.75"/><circle cx="625.9" cy="123.1" r="1.75"/><circle cx="629.8" cy="125.2" r="1.75"/><circle cx="634.0" cy="123.4" r="1.75"/><circle cx="617.9" cy="126.6" r="1.75"/><circle cx="621.9" cy="127.8" r="1.75"/><circle cx="625.9" cy="126.9" r="1.75"/><circle cx="634.0" cy="127.2" r="1.75"/><circle cx="641.7" cy="128.1" r="1.75"/><circle cx="617.9" cy="130.0" r="1.75"/><circle cx="621.9" cy="130.7" r="1.75"/><circle cx="625.9" cy="130.7" r="1.75"/><circle cx="634.0" cy="130.3" r="1.75"/><circle cx="637.8" cy="130.7" r="1.75"/><circle cx="629.8" cy="133.8" r="1.75"/><circle cx="634.0" cy="134.1" r="1.75"/><circle cx="637.8" cy="133.4" r="1.75"/><circle cx="625.9" cy="137.2" r="1.75"/><circle cx="629.8" cy="138.1" r="1.75"/><circle cx="621.9" cy="141.6" r="1.75"/><circle cx="625.9" cy="141.0" r="1.75"/><circle cx="637.8" cy="141.2" r="1.75"/><circle cx="629.8" cy="144.5" r="1.75"/><circle cx="634.0" cy="147.6" r="1.75"/><circle cx="625.9" cy="150.2" r="1.75"/></g>
<line x1="575.20" y1="148.50" x2="603.00" y2="148.50" stroke="#000" stroke-width="1.2"/>
<path d="M589.2 146.2V150.8M582.2 146.2H596.2M582.2 150.8H596.2" stroke="#8a8a8a" stroke-width="0.8" fill="none"/>
<line x1="616.20" y1="129.50" x2="643.80" y2="129.50" stroke="#000" stroke-width="1.2"/>
<path d="M629.8 114.5V144.5M623.0 114.5H636.6M623.0 144.5H636.6" stroke="#555" stroke-width="0.8" fill="none"/>
<path d="M584.2 64.3V68.3M584.2 66.3H623.6M623.6 64.3V68.3" stroke="#444" stroke-width="0.9" fill="none"/>
<text x="606.30" y="62.30" font-size="11" text-anchor="middle">****</text>
<text x="592.50" y="181.40" font-size="10.35" text-anchor="end" transform="rotate(-45 592.50 181.40)">cancer only</text>
<text x="633.00" y="183.00" font-size="10.35" text-anchor="end" transform="rotate(-45 633.00 183.00)">co-culture</text>
<path d="M24.8 236.9V334.5" stroke="#555" stroke-width="1.0" fill="none"/>
<path d="M24.3 334.5H124.2" stroke="#333" stroke-width="1.0" fill="none"/>
<line x1="20.20" y1="334.50" x2="24.80" y2="334.50" stroke="#333" stroke-width="1.0"/>
<text x="19.10" y="337.45" font-size="8.2" text-anchor="end">0</text>
<line x1="20.20" y1="302.13" x2="24.80" y2="302.13" stroke="#333" stroke-width="1.0"/>
<text x="19.10" y="305.08" font-size="8.2" text-anchor="end">10</text>
<line x1="20.20" y1="269.76" x2="24.80" y2="269.76" stroke="#333" stroke-width="1.0"/>
<text x="19.10" y="272.71" font-size="8.2" text-anchor="end">20</text>
<line x1="20.20" y1="237.39" x2="24.80" y2="237.39" stroke="#333" stroke-width="1.0"/>
<text x="19.10" y="240.34" font-size="8.2" text-anchor="end">30</text>
<line x1="47.80" y1="334.50" x2="47.80" y2="338.30" stroke="#333" stroke-width="1.0"/>
<line x1="100.00" y1="334.50" x2="100.00" y2="338.30" stroke="#333" stroke-width="1.0"/>
<text x="8.30" y="321.50" font-size="10.8" transform="rotate(-90 8.30 321.50)" textLength="79.0" lengthAdjust="spacingAndGlyphs">Cancer cell PI+ %</text>
<rect x="72.30" y="198.20" width="10.60" height="5.00" fill="#ff0000"/>
<rect x="72.30" y="211.30" width="10.60" height="5.00" fill="#0000ff"/>
<text x="89.00" y="203.50" font-size="8.3" textLength="28.4" lengthAdjust="spacingAndGlyphs">sgGAL4</text>
<text x="89.00" y="216.60" font-size="8.3" textLength="34.0" lengthAdjust="spacingAndGlyphs">sgATG9A</text>
<rect x="31.50" y="297.00" width="13.30" height="37.10" fill="#ff0000"/>
<rect x="51.00" y="276.30" width="13.30" height="57.80" fill="#0000ff"/>
<rect x="83.90" y="273.50" width="13.30" height="60.60" fill="#ff0000"/>
<rect x="103.40" y="277.00" width="13.30" height="57.10" fill="#0000ff"/>
<path d="M38.2 292.4V297.0M35.0 292.4H41.4" stroke="#000" stroke-width="0.9" fill="none"/>
<path d="M57.7 268.2V276.3M54.5 268.2H60.9" stroke="#000" stroke-width="0.9" fill="none"/>
<path d="M90.5 257.4V273.5M90.5 257.4H90.5" stroke="#000" stroke-width="0.9" fill="none"/>
<path d="M110.0 264.3V277.0M106.8 264.3H113.2" stroke="#000" stroke-width="0.9" fill="none"/>
<circle cx="33.80" cy="292.60" r="1.9" fill="#000"/>
<circle cx="42.50" cy="296.50" r="1.9" fill="#000"/>
<circle cx="33.80" cy="300.00" r="1.9" fill="#000"/>
<circle cx="90.30" cy="257.40" r="1.9" fill="#000"/>
<circle cx="90.30" cy="273.50" r="1.9" fill="#000"/>
<circle cx="90.30" cy="290.00" r="1.9" fill="#000"/>
<circle cx="57.90" cy="270.00" r="1.9" fill="none" stroke="#000" stroke-width="0.9"/>
<circle cx="57.90" cy="276.50" r="1.9" fill="none" stroke="#000" stroke-width="0.9"/>
<circle cx="57.90" cy="282.70" r="1.9" fill="none" stroke="#000" stroke-width="0.9"/>
<circle cx="109.90" cy="265.00" r="1.9" fill="none" stroke="#000" stroke-width="0.9"/>
<circle cx="109.90" cy="277.60" r="1.9" fill="none" stroke="#000" stroke-width="0.9"/>
<circle cx="109.90" cy="289.60" r="1.9" fill="none" stroke="#000" stroke-width="0.9"/>
<path d="M38.4 256.3V260.3M38.4 258.3H54.7M54.7 256.3V260.3" stroke="#444" stroke-width="0.9" fill="none"/>
<text x="47.80" y="247.50" font-size="8" text-anchor="middle">***</text>
<path d="M93.1 241.6V245.6M93.1 243.6H109.7M109.7 241.6V245.6" stroke="#444" stroke-width="0.9" fill="none"/>
<text x="101.80" y="234.60" font-size="8.6" text-anchor="middle">ns</text>
<text x="51.00" y="346.20" font-size="9.6" text-anchor="end" transform="rotate(-45 51.00 346.20)" textLength="31.8" lengthAdjust="spacingAndGlyphs">w Ca2+</text>
<text x="103.00" y="347.00" font-size="9.6" text-anchor="end" transform="rotate(-45 103.00 347.00)" textLength="38.4" lengthAdjust="spacingAndGlyphs">w/o Ca2+</text>
<path d="M334.2 224.7V334.4" stroke="#555" stroke-width="1.0" fill="none"/>
<path d="M333.7 334.4H441.0" stroke="#333" stroke-width="1.0" fill="none"/>
<line x1="329.60" y1="334.40" x2="334.20" y2="334.40" stroke="#333" stroke-width="1.0"/>
<text x="328.50" y="337.35" font-size="8.2" text-anchor="end">0</text>
<line x1="329.60" y1="307.10" x2="334.20" y2="307.10" stroke="#333" stroke-width="1.0"/>
<text x="328.50" y="310.05" font-size="8.2" text-anchor="end">5</text>
<line x1="329.60" y1="279.80" x2="334.20" y2="279.80" stroke="#333" stroke-width="1.0"/>
<text x="328.50" y="282.75" font-size="8.2" text-anchor="end">10</text>
<line x1="329.60" y1="252.50" x2="334.20" y2="252.50" stroke="#333" stroke-width="1.0"/>
<text x="328.50" y="255.45" font-size="8.2" text-anchor="end">15</text>
<line x1="329.60" y1="225.20" x2="334.20" y2="225.20" stroke="#333" stroke-width="1.0"/>
<text x="328.50" y="228.15" font-size="8.2" text-anchor="end">20</text>
<line x1="358.30" y1="334.40" x2="358.30" y2="338.50" stroke="#333" stroke-width="1.0"/>
<line x1="414.80" y1="334.40" x2="414.80" y2="338.50" stroke="#333" stroke-width="1.0"/>
<text x="311.20" y="300.50" font-size="9.8" transform="rotate(-90 311.20 300.50)" textLength="61.4" lengthAdjust="spacingAndGlyphs">GFP+ MIL+ %</text>
<rect x="381.20" y="195.10" width="11.30" height="5.80" fill="#ff0000"/>
<rect x="381.20" y="208.90" width="11.30" height="5.80" fill="#0000ff"/>
<text x="399.00" y="200.90" font-size="8.7" textLength="30.6" lengthAdjust="spacingAndGlyphs">sgGAL4</text>
<text x="399.00" y="214.90" font-size="8.7" textLength="36.2" lengthAdjust="spacingAndGlyphs">sgATG9A</text>
<rect x="341.30" y="317.20" width="14.60" height="16.80" fill="#ff0000"/>
<rect x="362.30" y="318.20" width="14.60" height="15.80" fill="#0000ff"/>
<rect x="397.40" y="299.80" width="14.60" height="34.20" fill="#ff0000"/>
<rect x="418.40" y="274.30" width="14.60" height="59.70" fill="#0000ff"/>
<path d="M348.6 315.2V317.2M344.8 315.2H352.4" stroke="#000" stroke-width="0.9" fill="none"/>
<path d="M369.6 316.0V318.2M365.8 316.0H373.4" stroke="#000" stroke-width="0.9" fill="none"/>
<path d="M404.7 295.4V299.8M400.9 295.4H408.5" stroke="#000" stroke-width="0.9" fill="none"/>
<path d="M425.7 258.0V274.3M421.5 258.0H429.9" stroke="#000" stroke-width="0.9" fill="none"/>
<circle cx="343.40" cy="314.00" r="2.0" fill="#000"/>
<circle cx="347.90" cy="315.50" r="2.0" fill="#000"/>
<circle cx="352.90" cy="317.70" r="2.0" fill="#000"/>
<circle cx="343.40" cy="319.70" r="2.0" fill="#000"/>
<circle cx="364.50" cy="315.20" r="2.0" fill="#000"/>
<circle cx="369.00" cy="317.70" r="2.0" fill="#000"/>
<circle cx="374.00" cy="319.00" r="2.0" fill="#000"/>
<circle cx="364.50" cy="319.70" r="2.0" fill="#000"/>
<circle cx="399.80" cy="298.10" r="2.0" fill="#000"/>
<circle cx="409.20" cy="294.90" r="2.0" fill="#000"/>
<circle cx="399.80" cy="304.10" r="2.0" fill="#000"/>
<circle cx="409.20" cy="302.30" r="2.0" fill="#000"/>
<circle cx="425.60" cy="250.70" r="2.0" fill="#000"/>
<circle cx="425.60" cy="277.00" r="2.0" fill="#000"/>
<circle cx="420.90" cy="286.20" r="2.0" fill="#000"/>
<circle cx="430.00" cy="283.00" r="2.0" fill="#000"/>
<path d="M348.6 301.8V305.8M348.6 303.8H366.5M366.5 301.8V305.8" stroke="#444" stroke-width="0.9" fill="none"/>
<text x="358.60" y="295.40" font-size="9.0" text-anchor="middle">ns</text>
<path d="M407.2 234.2V238.2M407.2 236.2H425.3M425.3 234.2V238.2" stroke="#444" stroke-width="0.9" fill="none"/>
<text x="416.50" y="233.20" font-size="10" text-anchor="middle">*</text>
<text x="362.20" y="348.40" font-size="9.6" text-anchor="end" transform="rotate(-45 362.20 348.40)" textLength="49.8" lengthAdjust="spacingAndGlyphs">cancer only</text>
<text x="417.80" y="348.40" font-size="9.6" text-anchor="end" transform="rotate(-45 417.80 348.40)" textLength="42.4" lengthAdjust="spacingAndGlyphs">co-culture</text>
<path d="M24.9 448.8V554.3" stroke="#555" stroke-width="1.0" fill="none"/>
<path d="M24.4 554.3H130.0" stroke="#333" stroke-width="1.0" fill="none"/>
<line x1="20.30" y1="554.30" x2="24.90" y2="554.30" stroke="#333" stroke-width="1.0"/>
<text x="19.20" y="557.29" font-size="8.3" text-anchor="end">0</text>
<line x1="20.30" y1="533.30" x2="24.90" y2="533.30" stroke="#333" stroke-width="1.0"/>
<text x="19.20" y="536.29" font-size="8.3" text-anchor="end">1</text>
<line x1="20.30" y1="512.30" x2="24.90" y2="512.30" stroke="#333" stroke-width="1.0"/>
<text x="19.20" y="515.29" font-size="8.3" text-anchor="end">2</text>
<line x1="20.30" y1="491.30" x2="24.90" y2="491.30" stroke="#333" stroke-width="1.0"/>
<text x="19.20" y="494.29" font-size="8.3" text-anchor="end">3</text>
<line x1="20.30" y1="470.30" x2="24.90" y2="470.30" stroke="#333" stroke-width="1.0"/>
<text x="19.20" y="473.29" font-size="8.3" text-anchor="end">4</text>
<line x1="20.30" y1="449.30" x2="24.90" y2="449.30" stroke="#333" stroke-width="1.0"/>
<text x="19.20" y="452.29" font-size="8.3" text-anchor="end">5</text>
<line x1="49.30" y1="554.30" x2="49.30" y2="558.50" stroke="#333" stroke-width="1.0"/>
<line x1="105.20" y1="554.30" x2="105.20" y2="558.50" stroke="#333" stroke-width="1.0"/>
<text x="9.30" y="577.40" font-size="10.3" transform="rotate(-90 9.30 577.40)" textLength="135.6" lengthAdjust="spacingAndGlyphs">Normalized lipid peroxidation</text>
<circle cx="80.20" cy="416.60" r="1.75" fill="#ff0000"/>
<circle cx="80.20" cy="430.80" r="1.75" fill="#0000ff"/>
<text x="92.40" y="419.90" font-size="8.9" textLength="30.6" lengthAdjust="spacingAndGlyphs">sgGAL4</text>
<text x="92.40" y="434.10" font-size="8.9" textLength="36.4" lengthAdjust="spacingAndGlyphs">sgATG9A</text>
<clipPath id="clipG"><rect x="20" y="440" width="115" height="114.0"/></clipPath><g clip-path="url(#clipG)">
<g fill="#ff0000"><circle cx="38.7" cy="513.2" r="1.65"/><circle cx="38.7" cy="521.5" r="1.65"/><circle cx="38.7" cy="526.8" r="1.65"/><circle cx="36.2" cy="529.2" r="1.65"/><circle cx="41.1" cy="529.2" r="1.65"/><circle cx="33.8" cy="531.2" r="1.65"/><circle cx="38.7" cy="530.8" r="1.65"/><circle cx="43.5" cy="531.2" r="1.65"/><circle cx="36.2" cy="533.3" r="1.65"/><circle cx="41.1" cy="533.3" r="1.65"/><circle cx="33.0" cy="534.9" r="1.65"/><circle cx="44.3" cy="534.9" r="1.65"/><circle cx="34.6" cy="536.5" r="1.65"/><circle cx="38.7" cy="536.0" r="1.65"/><circle cx="42.7" cy="536.8" r="1.65"/><circle cx="36.6" cy="538.4" r="1.65"/><circle cx="41.1" cy="538.1" r="1.65"/><circle cx="38.7" cy="540.2" r="1.65"/><circle cx="38.7" cy="545.3" r="1.65"/><circle cx="38.7" cy="553.3" r="1.65"/><circle cx="39.8" cy="553.3" r="1.65"/></g>
<g fill="#0000ff"><circle cx="59.5" cy="472.5" r="1.65"/><circle cx="61.5" cy="508.0" r="1.65"/><circle cx="57.9" cy="510.8" r="1.65"/><circle cx="59.5" cy="512.9" r="1.65"/><circle cx="61.5" cy="515.1" r="1.65"/><circle cx="57.9" cy="517.5" r="1.65"/><circle cx="59.5" cy="519.6" r="1.65"/><circle cx="61.5" cy="520.4" r="1.65"/><circle cx="63.2" cy="522.5" r="1.65"/><circle cx="57.9" cy="523.3" r="1.65"/><circle cx="56.0" cy="525.2" r="1.65"/><circle cx="54.4" cy="528.8" r="1.65"/><circle cx="59.5" cy="528.0" r="1.65"/><circle cx="65.1" cy="528.1" r="1.65"/><circle cx="56.3" cy="530.0" r="1.65"/><circle cx="60.3" cy="530.5" r="1.65"/><circle cx="63.2" cy="528.4" r="1.65"/><circle cx="56.0" cy="536.1" r="1.65"/><circle cx="61.5" cy="536.5" r="1.65"/><circle cx="57.9" cy="538.9" r="1.65"/><circle cx="63.2" cy="539.7" r="1.65"/><circle cx="54.4" cy="540.5" r="1.65"/><circle cx="59.5" cy="541.3" r="1.65"/><circle cx="58.7" cy="553.0" r="1.65"/><circle cx="60.7" cy="553.0" r="1.65"/></g>
<g fill="#ff0000"><circle cx="94.4" cy="521.2" r="1.65"/><circle cx="94.4" cy="526.5" r="1.65"/><circle cx="94.4" cy="528.9" r="1.65"/><circle cx="92.4" cy="530.8" r="1.65"/><circle cx="96.5" cy="530.8" r="1.65"/><circle cx="90.0" cy="532.4" r="1.65"/><circle cx="94.4" cy="532.4" r="1.65"/><circle cx="98.6" cy="532.4" r="1.65"/><circle cx="88.4" cy="534.1" r="1.65"/><circle cx="91.6" cy="534.4" r="1.65"/><circle cx="97.3" cy="534.4" r="1.65"/><circle cx="100.5" cy="534.1" r="1.65"/><circle cx="90.8" cy="535.7" r="1.65"/><circle cx="94.4" cy="536.0" r="1.65"/><circle cx="98.1" cy="535.7" r="1.65"/><circle cx="94.4" cy="538.1" r="1.65"/><circle cx="94.4" cy="540.5" r="1.65"/><circle cx="94.4" cy="545.8" r="1.65"/></g>
<g fill="#0000ff"><circle cx="116.9" cy="489.9" r="1.65"/><circle cx="114.6" cy="492.6" r="1.65"/><circle cx="114.9" cy="499.2" r="1.65"/><circle cx="116.9" cy="499.2" r="1.65"/><circle cx="112.5" cy="503.2" r="1.65"/><circle cx="118.9" cy="503.2" r="1.65"/><circle cx="115.7" cy="504.7" r="1.65"/><circle cx="117.3" cy="506.8" r="1.65"/><circle cx="116.9" cy="509.5" r="1.65"/><circle cx="118.9" cy="512.4" r="1.65"/><circle cx="112.5" cy="513.7" r="1.65"/><circle cx="114.9" cy="515.6" r="1.65"/><circle cx="116.9" cy="516.9" r="1.65"/><circle cx="113.0" cy="518.8" r="1.65"/><circle cx="110.1" cy="520.7" r="1.65"/><circle cx="114.9" cy="521.5" r="1.65"/><circle cx="118.5" cy="520.9" r="1.65"/><circle cx="116.9" cy="523.6" r="1.65"/><circle cx="114.6" cy="525.7" r="1.65"/><circle cx="110.1" cy="532.1" r="1.65"/><circle cx="113.3" cy="532.1" r="1.65"/><circle cx="116.9" cy="532.4" r="1.65"/><circle cx="118.9" cy="530.0" r="1.65"/><circle cx="121.4" cy="532.4" r="1.65"/><circle cx="118.9" cy="534.1" r="1.65"/><circle cx="114.6" cy="535.7" r="1.65"/><circle cx="116.9" cy="539.2" r="1.65"/><circle cx="115.4" cy="542.9" r="1.65"/></g>
</g>
<line x1="31.10" y1="533.25" x2="45.88" y2="533.25" stroke="#000" stroke-width="0.9"/>
<line x1="51.98" y1="528.75" x2="67.07" y2="528.75" stroke="#000" stroke-width="0.9"/>
<line x1="87.31" y1="533.73" x2="101.76" y2="533.73" stroke="#000" stroke-width="0.9"/>
<line x1="108.19" y1="521.21" x2="122.96" y2="521.21" stroke="#000" stroke-width="0.9"/>
<path d="M38.2 461.8V465.8M38.2 463.8H59.6M59.6 461.8V465.8" stroke="#444" stroke-width="0.9" fill="none"/>
<text x="49.30" y="458.00" font-size="8.6" text-anchor="middle">ns</text>
<path d="M94.8 461.8V465.8M94.8 463.8H115.8M115.8 461.8V465.8" stroke="#444" stroke-width="0.9" fill="none"/>
<text x="105.40" y="455.50" font-size="8.4" text-anchor="middle">****</text>
<text x="52.30" y="568.40" font-size="9.75" text-anchor="end" transform="rotate(-45 52.30 568.40)">cancer-only</text>
<text x="108.30" y="568.80" font-size="9.75" text-anchor="end" transform="rotate(-45 108.30 568.80)">co-culture</text>
<path d="M183.9 449.6V554.4" stroke="#555" stroke-width="1.0" fill="none"/>
<path d="M183.4 554.4H288.4" stroke="#333" stroke-width="1.0" fill="none"/>
<line x1="179.30" y1="554.40" x2="183.90" y2="554.40" stroke="#333" stroke-width="1.0"/>
<text x="178.20" y="557.39" font-size="8.3" text-anchor="end">0.0</text>
<line x1="179.30" y1="533.55" x2="183.90" y2="533.55" stroke="#333" stroke-width="1.0"/>
<text x="178.20" y="536.54" font-size="8.3" text-anchor="end">0.5</text>
<line x1="179.30" y1="512.70" x2="183.90" y2="512.70" stroke="#333" stroke-width="1.0"/>
<text x="178.20" y="515.69" font-size="8.3" text-anchor="end">1.0</text>
<line x1="179.30" y1="491.85" x2="183.90" y2="491.85" stroke="#333" stroke-width="1.0"/>
<text x="178.20" y="494.84" font-size="8.3" text-anchor="end">1.5</text>
<line x1="179.30" y1="471.00" x2="183.90" y2="471.00" stroke="#333" stroke-width="1.0"/>
<text x="178.20" y="473.99" font-size="8.3" text-anchor="end">2.0</text>
<line x1="179.30" y1="450.15" x2="183.90" y2="450.15" stroke="#333" stroke-width="1.0"/>
<text x="178.20" y="453.14" font-size="8.3" text-anchor="end">2.5</text>
<line x1="207.50" y1="554.40" x2="207.50" y2="558.60" stroke="#333" stroke-width="1.0"/>
<line x1="263.40" y1="554.40" x2="263.40" y2="558.60" stroke="#333" stroke-width="1.0"/>
<text x="158.00" y="570.60" font-size="10.3" transform="rotate(-90 158.00 570.60)" textLength="129.0" lengthAdjust="spacingAndGlyphs">Oxidized/reduced lipid ratio</text>
<circle cx="244.20" cy="418.00" r="1.7" fill="#ff0000"/>
<circle cx="244.20" cy="432.20" r="1.7" fill="#0000ff"/>
<text x="256.20" y="421.40" font-size="8.9" textLength="30.8" lengthAdjust="spacingAndGlyphs">sgGAL4</text>
<text x="256.20" y="435.60" font-size="8.9" textLength="36.4" lengthAdjust="spacingAndGlyphs">sgATG9A</text>
<g fill="#ff0000"><circle cx="196.7" cy="540.6" r="1.5"/><circle cx="197.5" cy="540.5" r="1.5"/><circle cx="198.1" cy="540.7" r="1.5"/><circle cx="194.9" cy="542.1" r="1.5"/><circle cx="196.0" cy="542.1" r="1.5"/><circle cx="197.2" cy="541.8" r="1.5"/><circle cx="198.5" cy="542.3" r="1.5"/><circle cx="199.5" cy="541.9" r="1.5"/><circle cx="193.6" cy="543.7" r="1.5"/><circle cx="194.5" cy="543.3" r="1.5"/><circle cx="195.8" cy="543.1" r="1.5"/><circle cx="196.7" cy="543.3" r="1.5"/><circle cx="197.2" cy="543.2" r="1.5"/><circle cx="198.3" cy="543.6" r="1.5"/><circle cx="199.2" cy="543.5" r="1.5"/><circle cx="200.5" cy="543.3" r="1.5"/><circle cx="201.4" cy="543.1" r="1.5"/><circle cx="191.6" cy="544.5" r="1.5"/><circle cx="192.9" cy="544.7" r="1.5"/><circle cx="193.6" cy="544.8" r="1.5"/><circle cx="194.6" cy="544.6" r="1.5"/><circle cx="195.8" cy="544.9" r="1.5"/><circle cx="196.4" cy="544.8" r="1.5"/><circle cx="197.5" cy="545.0" r="1.5"/><circle cx="198.5" cy="544.6" r="1.5"/><circle cx="199.6" cy="544.5" r="1.5"/><circle cx="200.2" cy="544.9" r="1.5"/><circle cx="200.9" cy="544.7" r="1.5"/><circle cx="201.8" cy="544.8" r="1.5"/><circle cx="203.2" cy="544.8" r="1.5"/><circle cx="190.8" cy="545.9" r="1.5"/><circle cx="191.5" cy="546.1" r="1.5"/><circle cx="192.3" cy="546.0" r="1.5"/><circle cx="193.4" cy="546.3" r="1.5"/><circle cx="194.0" cy="546.2" r="1.5"/><circle cx="194.6" cy="546.2" r="1.5"/><circle cx="195.8" cy="546.4" r="1.5"/><circle cx="196.8" cy="545.9" r="1.5"/><circle cx="197.4" cy="546.2" r="1.5"/><circle cx="198.0" cy="546.0" r="1.5"/><circle cx="199.0" cy="545.8" r="1.5"/><circle cx="199.7" cy="546.2" r="1.5"/><circle cx="200.7" cy="545.9" r="1.5"/><circle cx="201.7" cy="546.3" r="1.5"/><circle cx="202.3" cy="546.0" r="1.5"/><circle cx="203.5" cy="546.3" r="1.5"/><circle cx="204.6" cy="546.3" r="1.5"/><circle cx="190.7" cy="547.3" r="1.5"/><circle cx="191.6" cy="547.6" r="1.5"/><circle cx="192.8" cy="547.1" r="1.5"/><circle cx="193.1" cy="547.2" r="1.5"/><circle cx="194.0" cy="547.3" r="1.5"/><circle cx="195.0" cy="547.2" r="1.5"/><circle cx="195.5" cy="547.3" r="1.5"/><circle cx="196.5" cy="547.4" r="1.5"/><circle cx="197.7" cy="547.5" r="1.5"/><circle cx="198.3" cy="547.4" r="1.5"/><circle cx="199.2" cy="547.1" r="1.5"/><circle cx="200.2" cy="547.5" r="1.5"/><circle cx="201.0" cy="547.6" r="1.5"/><circle cx="201.5" cy="547.3" r="1.5"/><circle cx="202.1" cy="547.4" r="1.5"/><circle cx="202.9" cy="547.1" r="1.5"/><circle cx="203.8" cy="547.1" r="1.5"/></g>
<g fill="#0000ff"><circle cx="217.2" cy="536.7" r="1.5"/><circle cx="217.8" cy="536.8" r="1.5"/><circle cx="218.9" cy="537.0" r="1.5"/><circle cx="215.2" cy="539.2" r="1.5"/><circle cx="217.1" cy="538.5" r="1.5"/><circle cx="218.1" cy="538.7" r="1.5"/><circle cx="219.5" cy="538.4" r="1.5"/><circle cx="221.3" cy="539.3" r="1.5"/><circle cx="214.0" cy="540.4" r="1.5"/><circle cx="214.7" cy="540.1" r="1.5"/><circle cx="216.0" cy="540.2" r="1.5"/><circle cx="217.6" cy="540.1" r="1.5"/><circle cx="217.8" cy="540.9" r="1.5"/><circle cx="219.4" cy="540.1" r="1.5"/><circle cx="220.5" cy="540.0" r="1.5"/><circle cx="221.5" cy="540.9" r="1.5"/><circle cx="222.9" cy="540.7" r="1.5"/><circle cx="212.5" cy="542.0" r="1.5"/><circle cx="213.5" cy="542.4" r="1.5"/><circle cx="215.0" cy="542.4" r="1.5"/><circle cx="215.9" cy="541.8" r="1.5"/><circle cx="217.5" cy="542.6" r="1.5"/><circle cx="218.7" cy="542.4" r="1.5"/><circle cx="219.7" cy="542.3" r="1.5"/><circle cx="220.3" cy="542.1" r="1.5"/><circle cx="221.5" cy="541.6" r="1.5"/><circle cx="222.3" cy="541.9" r="1.5"/><circle cx="223.6" cy="542.3" r="1.5"/><circle cx="212.2" cy="543.7" r="1.5"/><circle cx="213.3" cy="544.2" r="1.5"/><circle cx="214.4" cy="543.6" r="1.5"/><circle cx="214.7" cy="543.5" r="1.5"/><circle cx="215.8" cy="543.5" r="1.5"/><circle cx="217.3" cy="544.1" r="1.5"/><circle cx="218.6" cy="543.7" r="1.5"/><circle cx="219.5" cy="544.0" r="1.5"/><circle cx="220.1" cy="543.9" r="1.5"/><circle cx="222.0" cy="544.0" r="1.5"/><circle cx="222.9" cy="543.7" r="1.5"/><circle cx="223.5" cy="544.0" r="1.5"/><circle cx="224.7" cy="544.0" r="1.5"/><circle cx="211.9" cy="545.3" r="1.5"/><circle cx="212.3" cy="545.8" r="1.5"/><circle cx="213.6" cy="545.1" r="1.5"/><circle cx="214.0" cy="545.0" r="1.5"/><circle cx="215.7" cy="545.7" r="1.5"/><circle cx="216.0" cy="545.7" r="1.5"/><circle cx="217.8" cy="545.5" r="1.5"/><circle cx="218.2" cy="545.4" r="1.5"/><circle cx="218.9" cy="544.9" r="1.5"/><circle cx="220.7" cy="545.5" r="1.5"/><circle cx="221.3" cy="545.8" r="1.5"/><circle cx="222.2" cy="545.8" r="1.5"/><circle cx="223.6" cy="545.1" r="1.5"/><circle cx="224.0" cy="545.2" r="1.5"/><circle cx="224.9" cy="545.5" r="1.5"/><circle cx="211.5" cy="546.9" r="1.5"/><circle cx="212.5" cy="547.4" r="1.5"/><circle cx="213.8" cy="547.0" r="1.5"/><circle cx="215.1" cy="547.4" r="1.5"/><circle cx="216.0" cy="547.4" r="1.5"/><circle cx="217.2" cy="547.1" r="1.5"/><circle cx="218.3" cy="546.6" r="1.5"/><circle cx="219.3" cy="546.7" r="1.5"/><circle cx="220.0" cy="547.3" r="1.5"/><circle cx="221.3" cy="547.0" r="1.5"/><circle cx="222.9" cy="547.1" r="1.5"/><circle cx="223.6" cy="547.0" r="1.5"/><circle cx="224.9" cy="547.3" r="1.5"/><circle cx="212.3" cy="548.7" r="1.5"/><circle cx="213.6" cy="548.5" r="1.5"/><circle cx="215.2" cy="548.7" r="1.5"/><circle cx="216.1" cy="548.9" r="1.5"/><circle cx="217.6" cy="548.6" r="1.5"/><circle cx="218.4" cy="548.7" r="1.5"/><circle cx="219.4" cy="548.9" r="1.5"/><circle cx="220.5" cy="548.7" r="1.5"/><circle cx="221.6" cy="549.1" r="1.5"/><circle cx="223.0" cy="549.0" r="1.5"/><circle cx="224.3" cy="548.4" r="1.5"/><circle cx="215.1" cy="550.3" r="1.5"/><circle cx="216.4" cy="549.5" r="1.5"/><circle cx="216.8" cy="549.8" r="1.5"/><circle cx="217.9" cy="549.6" r="1.5"/><circle cx="219.0" cy="550.0" r="1.5"/><circle cx="220.8" cy="550.2" r="1.5"/><circle cx="221.2" cy="550.0" r="1.5"/></g>
<g fill="#ff0000"><circle cx="253.3" cy="497.8" r="1.55"/><circle cx="253.3" cy="501.1" r="1.55"/><circle cx="253.3" cy="512.2" r="1.55"/><circle cx="252.3" cy="513.0" r="1.55"/><circle cx="253.3" cy="518.3" r="1.55"/><circle cx="251.1" cy="521.6" r="1.55"/><circle cx="255.2" cy="522.1" r="1.55"/><circle cx="249.5" cy="523.7" r="1.55"/><circle cx="253.3" cy="524.0" r="1.55"/><circle cx="256.9" cy="523.2" r="1.55"/><circle cx="247.9" cy="525.7" r="1.55"/><circle cx="252.0" cy="526.0" r="1.55"/><circle cx="256.1" cy="525.7" r="1.55"/><circle cx="258.9" cy="525.4" r="1.55"/><circle cx="248.7" cy="528.1" r="1.55"/><circle cx="253.3" cy="528.1" r="1.55"/><circle cx="257.7" cy="528.1" r="1.55"/><circle cx="250.3" cy="530.3" r="1.55"/><circle cx="255.2" cy="530.3" r="1.55"/><circle cx="253.3" cy="532.2" r="1.55"/><circle cx="253.3" cy="536.8" r="1.55"/></g>
<g fill="#0000ff"><circle cx="274.1" cy="471.2" r="1.55"/><circle cx="274.1" cy="487.6" r="1.55"/><circle cx="273.3" cy="494.5" r="1.55"/><circle cx="275.0" cy="497.8" r="1.55"/><circle cx="273.6" cy="500.2" r="1.55"/><circle cx="274.6" cy="504.0" r="1.55"/><circle cx="273.0" cy="506.8" r="1.55"/><circle cx="275.3" cy="507.6" r="1.55"/><circle cx="272.5" cy="510.1" r="1.55"/><circle cx="275.8" cy="511.7" r="1.55"/><circle cx="271.7" cy="513.4" r="1.55"/><circle cx="275.0" cy="514.2" r="1.55"/><circle cx="270.8" cy="516.7" r="1.55"/><circle cx="274.1" cy="516.7" r="1.55"/><circle cx="277.4" cy="515.8" r="1.55"/><circle cx="269.2" cy="519.1" r="1.55"/><circle cx="272.5" cy="519.4" r="1.55"/><circle cx="275.8" cy="519.1" r="1.55"/><circle cx="279.1" cy="519.4" r="1.55"/><circle cx="270.0" cy="521.6" r="1.55"/><circle cx="273.3" cy="522.1" r="1.55"/><circle cx="276.9" cy="522.1" r="1.55"/><circle cx="280.2" cy="520.8" r="1.55"/><circle cx="271.7" cy="525.7" r="1.55"/><circle cx="275.0" cy="526.0" r="1.55"/><circle cx="278.2" cy="525.7" r="1.55"/><circle cx="270.8" cy="528.6" r="1.55"/><circle cx="274.1" cy="529.0" r="1.55"/><circle cx="277.4" cy="528.1" r="1.55"/><circle cx="272.5" cy="530.9" r="1.55"/><circle cx="276.6" cy="531.4" r="1.55"/></g>
<line x1="189.90" y1="545.39" x2="204.84" y2="545.39" stroke="#000" stroke-width="0.9"/>
<line x1="210.91" y1="544.07" x2="225.69" y2="544.07" stroke="#000" stroke-width="0.9"/>
<line x1="245.89" y1="526.50" x2="260.50" y2="526.50" stroke="#000" stroke-width="0.9"/>
<line x1="267.07" y1="518.29" x2="281.52" y2="518.29" stroke="#000" stroke-width="0.9"/>
<path d="M196.5 521.2V525.2M196.5 523.2H218.8M218.8 521.2V525.2" stroke="#444" stroke-width="0.9" fill="none"/>
<text x="207.60" y="519.80" font-size="8.6" text-anchor="middle">ns</text>
<path d="M251.2 455.0V459.0M251.2 457.0H274.0M274.0 455.0V459.0" stroke="#444" stroke-width="0.9" fill="none"/>
<text x="262.40" y="454.20" font-size="9" text-anchor="middle">**</text>
<text x="211.30" y="568.20" font-size="9.75" text-anchor="end" transform="rotate(-45 211.30 568.20)">cancer-only</text>
<text x="267.00" y="568.00" font-size="9.75" text-anchor="end" transform="rotate(-45 267.00 568.00)">co-culture</text>
<path d="M334.4 469.6V554.9" stroke="#555" stroke-width="1.0" fill="none"/>
<path d="M333.9 554.9H603.0" stroke="#333" stroke-width="1.0" fill="none"/>
<line x1="329.80" y1="554.90" x2="334.40" y2="554.90" stroke="#333" stroke-width="1.0"/>
<text x="328.70" y="557.78" font-size="8.0" text-anchor="end">0</text>
<line x1="329.80" y1="512.50" x2="334.40" y2="512.50" stroke="#333" stroke-width="1.0"/>
<text x="328.70" y="515.38" font-size="8.0" text-anchor="end">50</text>
<line x1="329.80" y1="470.10" x2="334.40" y2="470.10" stroke="#333" stroke-width="1.0"/>
<text x="328.70" y="472.98" font-size="8.0" text-anchor="end">100</text>
<line x1="346.40" y1="554.90" x2="346.40" y2="559.40" stroke="#333" stroke-width="1.0"/>
<line x1="370.60" y1="554.90" x2="370.60" y2="559.40" stroke="#333" stroke-width="1.0"/>
<line x1="394.80" y1="554.90" x2="394.80" y2="559.40" stroke="#333" stroke-width="1.0"/>
<line x1="419.20" y1="554.90" x2="419.20" y2="559.40" stroke="#333" stroke-width="1.0"/>
<line x1="443.40" y1="554.90" x2="443.40" y2="559.40" stroke="#333" stroke-width="1.0"/>
<line x1="492.40" y1="554.90" x2="492.40" y2="559.40" stroke="#333" stroke-width="1.0"/>
<line x1="516.90" y1="554.90" x2="516.90" y2="559.40" stroke="#333" stroke-width="1.0"/>
<line x1="541.10" y1="554.90" x2="541.10" y2="559.40" stroke="#333" stroke-width="1.0"/>
<line x1="565.40" y1="554.90" x2="565.40" y2="559.40" stroke="#333" stroke-width="1.0"/>
<line x1="589.50" y1="554.90" x2="589.50" y2="559.40" stroke="#333" stroke-width="1.0"/>
<text x="313.60" y="551.00" font-size="10.7" transform="rotate(-90 313.60 551.00)" textLength="82.6" lengthAdjust="spacingAndGlyphs">Cancer live cell %</text>
<text x="392.10" y="421.90" font-size="10.9" text-anchor="middle" textLength="76.2" lengthAdjust="spacingAndGlyphs">sgGAL4 + CAR-M</text>
<text x="532.50" y="422.70" font-size="10.9" text-anchor="middle" textLength="83.4" lengthAdjust="spacingAndGlyphs">sgATG9A + CAR-M</text>
<rect x="340.20" y="483.20" width="12.40" height="71.30" fill="#ff0000"/>
<path d="M346.4 476.8V489.4M343.6 476.8H349.2M343.6 489.4H349.2" stroke="#222" stroke-width="0.6" fill="none"/>
<rect x="364.40" y="484.80" width="12.40" height="69.70" fill="#ff0000"/>
<path d="M370.6 480.9V488.7M367.8 480.9H373.4M367.8 488.7H373.4" stroke="#222" stroke-width="0.6" fill="none"/>
<rect x="388.60" y="479.50" width="12.40" height="75.00" fill="#ff0000"/>
<path d="M394.8 470.1V488.3M392.0 470.1H397.6M392.0 488.3H397.6" stroke="#222" stroke-width="0.6" fill="none"/>
<rect x="413.00" y="479.50" width="12.40" height="75.00" fill="#ff0000"/>
<path d="M419.2 475.0V484.4M416.4 475.0H422.0M416.4 484.4H422.0" stroke="#222" stroke-width="0.6" fill="none"/>
<rect x="437.20" y="482.40" width="12.40" height="72.10" fill="#ff0000"/>
<path d="M443.4 477.0V487.5M440.6 477.0H446.2M440.6 487.5H446.2" stroke="#222" stroke-width="0.6" fill="none"/>
<circle cx="346.40" cy="475.60" r="1.2" fill="#000"/>
<circle cx="346.40" cy="482.10" r="1.2" fill="#000"/>
<circle cx="346.40" cy="488.30" r="1.2" fill="#000"/>
<circle cx="370.60" cy="479.50" r="1.2" fill="#000"/>
<circle cx="368.50" cy="485.50" r="1.2" fill="#000"/>
<circle cx="372.60" cy="486.00" r="1.2" fill="#000"/>
<circle cx="392.00" cy="483.70" r="1.2" fill="#000"/>
<circle cx="397.00" cy="484.10" r="1.2" fill="#000"/>
<circle cx="394.70" cy="481.40" r="1.2" fill="#000"/>
<circle cx="416.80" cy="475.60" r="1.2" fill="#000"/>
<circle cx="421.40" cy="475.60" r="1.2" fill="#000"/>
<circle cx="419.10" cy="480.90" r="1.2" fill="#000"/>
<circle cx="419.10" cy="484.80" r="1.2" fill="#000"/>
<circle cx="442.80" cy="476.30" r="1.2" fill="#000"/>
<circle cx="441.40" cy="486.40" r="1.2" fill="#000"/>
<circle cx="445.70" cy="485.30" r="1.2" fill="#000"/>
<rect x="486.20" y="520.20" width="12.40" height="34.30" fill="#0000ff"/>
<path d="M492.4 517.8V522.6M489.6 517.8H495.2M489.6 522.6H495.2" stroke="#222" stroke-width="0.6" fill="none"/>
<circle cx="491.20" cy="518.60" r="1.15" fill="#000"/>
<circle cx="492.40" cy="520.20" r="1.15" fill="#000"/>
<circle cx="493.60" cy="521.80" r="1.15" fill="#000"/>
<rect x="510.70" y="523.80" width="12.40" height="30.70" fill="#0000ff"/>
<path d="M516.9 520.0V527.0M514.1 520.0H519.7M514.1 527.0H519.7" stroke="#222" stroke-width="0.6" fill="none"/>
<circle cx="515.70" cy="520.80" r="1.15" fill="#000"/>
<circle cx="516.90" cy="523.50" r="1.15" fill="#000"/>
<circle cx="518.10" cy="526.20" r="1.15" fill="#000"/>
<rect x="534.90" y="520.20" width="12.40" height="34.30" fill="#0000ff"/>
<path d="M541.1 517.8V522.8M538.3 517.8H543.9M538.3 522.8H543.9" stroke="#222" stroke-width="0.6" fill="none"/>
<circle cx="539.90" cy="518.60" r="1.15" fill="#000"/>
<circle cx="541.10" cy="520.30" r="1.15" fill="#000"/>
<circle cx="542.30" cy="522.00" r="1.15" fill="#000"/>
<rect x="559.20" y="511.20" width="12.40" height="43.30" fill="#0000ff"/>
<path d="M565.4 509.6V512.6M562.6 509.6H568.2M562.6 512.6H568.2" stroke="#222" stroke-width="0.6" fill="none"/>
<circle cx="560.80" cy="510.60" r="1.15" fill="#000"/>
<circle cx="565.40" cy="510.90" r="1.15" fill="#000"/>
<circle cx="570.00" cy="511.20" r="1.15" fill="#000"/>
<rect x="583.30" y="507.60" width="12.40" height="46.90" fill="#0000ff"/>
<path d="M589.5 501.5V514.0M586.7 501.5H592.3M586.7 514.0H592.3" stroke="#222" stroke-width="0.6" fill="none"/>
<circle cx="588.30" cy="502.30" r="1.15" fill="#000"/>
<circle cx="589.50" cy="507.75" r="1.15" fill="#000"/>
<circle cx="590.70" cy="513.20" r="1.15" fill="#000"/>
<path d="M373.5 446.9V444.5H396.5V446.9" stroke="#777" stroke-width="0.75" fill="none"/>
<text x="384.00" y="440.20" font-size="10.9" text-anchor="middle" textLength="19.4" lengthAdjust="spacingAndGlyphs">NO i</text>
<path d="M419.4 447.1V444.7H442.8V447.1" stroke="#777" stroke-width="0.75" fill="none"/>
<text x="430.80" y="440.20" font-size="10.9" text-anchor="middle" textLength="24.0" lengthAdjust="spacingAndGlyphs">ROS i</text>
<path d="M522.4 460.7V458.3H545.8V460.7" stroke="#777" stroke-width="0.75" fill="none"/>
<text x="534.10" y="452.00" font-size="10.9" text-anchor="middle" textLength="19.8" lengthAdjust="spacingAndGlyphs">NO i</text>
<path d="M563.8 460.7V458.3H587.9V460.7" stroke="#777" stroke-width="0.75" fill="none"/>
<text x="576.20" y="452.00" font-size="10.9" text-anchor="middle" textLength="24.0" lengthAdjust="spacingAndGlyphs">ROS i</text>
<text x="370.40" y="464.80" font-size="7.8" text-anchor="middle" fill="#111">ns</text>
<text x="394.70" y="463.40" font-size="7.8" text-anchor="middle" fill="#111">ns</text>
<text x="418.80" y="460.60" font-size="7.8" text-anchor="middle" fill="#111">ns</text>
<text x="442.90" y="464.80" font-size="7.8" text-anchor="middle" fill="#111">ns</text>
<text x="516.70" y="505.80" font-size="7.8" text-anchor="middle" fill="#111">ns</text>
<text x="540.40" y="500.80" font-size="7.8" text-anchor="middle" fill="#111">ns</text>
<text x="565.30" y="490.60" font-size="8.6" text-anchor="middle">***</text>
<text x="589.00" y="488.80" font-size="8.6" text-anchor="middle">**</text>
<text x="349.40" y="568.60" font-size="9.2" text-anchor="end" transform="rotate(-45 349.40 568.60)">Control</text>
<text x="373.60" y="568.60" font-size="9.2" text-anchor="end" transform="rotate(-45 373.60 568.60)">Carboxy-PTIO</text>
<text x="397.80" y="568.60" font-size="9.2" text-anchor="end" transform="rotate(-45 397.80 568.60)">L-NMMA</text>
<text x="422.20" y="568.60" font-size="9.2" text-anchor="end" transform="rotate(-45 422.20 568.60)">Mito-TEMPO</text>
<text x="446.40" y="568.60" font-size="9.2" text-anchor="end" transform="rotate(-45 446.40 568.60)">Apocynin</text>
<text x="495.40" y="568.60" font-size="9.2" text-anchor="end" transform="rotate(-45 495.40 568.60)">Control</text>
<text x="519.90" y="568.60" font-size="9.2" text-anchor="end" transform="rotate(-45 519.90 568.60)">Carboxy-PTIO</text>
<text x="544.10" y="568.60" font-size="9.2" text-anchor="end" transform="rotate(-45 544.10 568.60)">L-NMMA</text>
<text x="568.40" y="568.60" font-size="9.2" text-anchor="end" transform="rotate(-45 568.40 568.60)">Mito-TEMPO</text>
<text x="592.50" y="568.60" font-size="9.2" text-anchor="end" transform="rotate(-45 592.50 568.60)">Apocynin</text>
<text x="166.30" y="227.40" font-size="11.2" font-weight="bold" fill="#2ae432" textLength="39.4" lengthAdjust="spacingAndGlyphs">HaloTag+</text>
<text x="208.80" y="227.40" font-size="11.2" textLength="37.6" lengthAdjust="spacingAndGlyphs">OVCAR-8</text>
<path d="M183.9 258.9L185.1 260.5L184.7 262.1L182.6 263.2L181.8 264.5L182.1 266.2L181.9 267.9L181.7 269.6L180.4 270.6L178.3 270.8L177.3 271.9L176.5 273.4L175.0 273.8L173.8 274.8L172.8 276.4L171.1 276.5L169.4 275.8L167.9 275.7L166.4 275.6L164.9 276.5L163.1 277.7L161.7 276.6L160.6 274.7L159.2 274.4L157.7 274.0L156.5 273.0L154.9 272.7L153.5 271.8L152.7 270.4L151.8 269.1L151.6 267.4L151.7 265.8L149.9 264.9L148.0 263.8L148.4 262.1L149.2 260.4L149.4 258.9L149.7 257.4L149.2 255.9L148.6 254.1L149.6 252.8L150.4 251.4L150.7 249.9L152.4 249.1L153.9 248.4L154.0 246.5L154.5 244.7L155.8 243.8L157.4 243.4L159.3 243.7L160.8 243.6L161.8 241.7L163.2 240.7L164.9 241.2L166.4 241.1L168.0 241.0L169.3 242.2L170.7 242.7L172.4 242.5L174.0 242.7L175.7 242.8L177.0 243.8L177.1 246.2L177.8 247.5L180.0 247.5L181.4 248.4L182.0 249.9L182.8 251.3L182.7 252.9L182.7 254.5L183.5 255.9L183.7 257.4Z" fill="#fff" stroke="#5aa848" stroke-width="0.7"/>
<path d="M174.7 255.8L175.4 257.1L174.7 258.2L174.0 259.2L173.5 260.2L172.3 260.7L171.4 261.4L170.8 262.4L169.8 263.3L168.6 263.7L167.4 263.3L166.3 262.6L165.2 262.6L164.1 262.3L163.2 261.6L161.8 261.4L160.7 260.6L161.1 259.0L161.0 257.9L160.1 257.0L160.1 255.8L160.2 254.7L159.7 253.3L160.4 252.2L161.8 251.7L162.5 250.9L163.2 250.0L164.0 249.2L165.0 248.4L166.2 248.1L167.4 248.2L168.5 248.6L169.5 249.4L170.6 249.6L172.1 249.4L173.0 250.2L173.3 251.5L174.2 252.3L174.3 253.6L173.8 254.8Z" fill="#58dc38"/>
<g fill="#f04a55"><circle cx="157.1" cy="249.9" r="1.0"/><circle cx="170.4" cy="244.9" r="1.0"/><circle cx="165.5" cy="244.5" r="1.0"/><circle cx="176.6" cy="260.8" r="1.0"/><circle cx="177.8" cy="254.6" r="1.0"/><circle cx="170.8" cy="255.7" r="1.0"/><circle cx="158.9" cy="260.4" r="1.0"/><circle cx="155.4" cy="255.8" r="1.0"/><circle cx="173.6" cy="259.5" r="1.0"/><circle cx="163.8" cy="273.0" r="1.0"/><circle cx="167.0" cy="252.6" r="1.0"/><circle cx="162.2" cy="255.1" r="1.0"/><circle cx="180.4" cy="259.1" r="1.0"/><circle cx="168.2" cy="265.9" r="1.0"/><circle cx="170.5" cy="272.9" r="1.0"/><circle cx="161.0" cy="245.2" r="1.0"/><circle cx="162.3" cy="263.8" r="1.0"/><circle cx="169.0" cy="262.3" r="1.0"/><circle cx="162.7" cy="270.0" r="1.0"/><circle cx="170.8" cy="249.3" r="1.0"/><circle cx="169.4" cy="258.4" r="1.0"/><circle cx="158.7" cy="267.5" r="1.0"/><circle cx="176.5" cy="267.1" r="1.0"/><circle cx="180.6" cy="262.2" r="1.0"/><circle cx="173.9" cy="263.7" r="1.0"/><circle cx="158.7" cy="271.1" r="1.0"/></g>
<line x1="190.20" y1="260.00" x2="216.50" y2="260.00" stroke="#222" stroke-width="0.95"/>
<path d="M221 260L215.2 257.1V262.9Z" fill="#111"/>
<path d="M252.3 261.0L252.3 261.9L253.9 263.0L255.7 264.6L256.4 266.1L257.6 268.2L258.0 270.1L257.2 271.4L256.0 272.5L254.4 273.1L252.6 273.2L251.9 274.7L251.6 277.1L250.1 277.6L248.2 277.2L246.8 277.7L245.2 277.7L243.8 277.7L242.3 278.5L240.8 278.7L239.2 278.5L237.6 278.7L236.4 277.3L235.6 275.4L233.9 275.5L231.8 275.9L230.6 275.0L229.6 273.7L229.1 272.1L228.9 270.4L227.6 269.5L226.1 268.5L225.9 267.0L225.2 265.6L224.2 264.2L225.1 262.5L226.1 261.0L225.6 259.5L225.0 257.9L224.6 256.3L224.9 254.7L226.8 253.8L228.4 253.0L228.3 251.2L228.7 249.6L230.0 248.7L230.8 247.3L232.0 246.2L233.7 246.2L235.2 245.8L236.6 245.2L237.9 244.7L239.1 242.9L240.7 242.2L242.3 243.9L243.7 244.9L245.2 244.3L246.8 244.2L248.4 244.2L250.0 244.5L251.0 245.9L252.1 247.0L253.4 247.7L254.0 249.3L253.7 251.5L254.3 252.6L253.6 254.5L251.5 256.7L250.0 258.2L249.3 259.1L249.6 259.7L251.4 260.2Z" fill="#fff" stroke="#5aa848" stroke-width="0.7"/>
<path d="M251.0 263.4L250.4 264.7L249.6 265.8L249.0 266.8L248.4 267.9L247.9 269.1L247.1 270.1L246.0 270.8L244.8 271.4L243.4 271.1L242.2 270.5L241.0 271.1L239.6 271.5L238.5 270.6L237.3 270.1L236.2 269.4L236.1 267.8L235.8 266.6L234.5 265.9L233.9 264.7L234.0 263.4L233.9 262.1L234.5 260.9L235.5 260.0L236.1 259.0L236.6 257.8L237.2 256.6L238.3 255.7L239.7 255.8L241.0 255.8L242.2 255.5L243.4 256.0L244.6 256.0L246.2 255.5L247.2 256.5L247.5 258.1L248.5 258.8L249.2 259.8L249.3 261.1L250.2 262.1Z" fill="#58dc38"/>
<g fill="#f04a55"><circle cx="231.9" cy="263.2" r="1.0"/><circle cx="244.8" cy="258.2" r="1.0"/><circle cx="238.0" cy="251.2" r="1.0"/><circle cx="241.4" cy="266.4" r="1.0"/><circle cx="229.8" cy="253.9" r="1.0"/><circle cx="247.7" cy="265.9" r="1.0"/><circle cx="236.7" cy="263.3" r="1.0"/><circle cx="245.4" cy="274.4" r="1.0"/><circle cx="241.7" cy="263.4" r="1.0"/><circle cx="236.9" cy="246.9" r="1.0"/><circle cx="249.9" cy="263.5" r="1.0"/><circle cx="243.7" cy="252.6" r="1.0"/><circle cx="242.8" cy="275.6" r="1.0"/><circle cx="246.9" cy="253.8" r="1.0"/><circle cx="229.0" cy="264.8" r="1.0"/><circle cx="234.1" cy="260.2" r="1.0"/><circle cx="239.3" cy="271.2" r="1.0"/></g>
<g fill="#8a4ac0"><circle cx="250.0" cy="271.7" r="1.0"/><circle cx="229.8" cy="257.1" r="1.0"/><circle cx="240.0" cy="254.8" r="1.0"/><circle cx="226.6" cy="260.5" r="1.0"/><circle cx="231.3" cy="269.7" r="1.0"/><circle cx="235.1" cy="249.6" r="1.0"/><circle cx="238.4" cy="274.3" r="1.0"/><circle cx="236.4" cy="257.8" r="1.0"/><circle cx="245.8" cy="261.5" r="1.0"/><circle cx="242.0" cy="272.8" r="1.0"/><circle cx="233.0" cy="272.4" r="1.0"/><circle cx="251.6" cy="269.0" r="1.0"/><circle cx="233.4" cy="266.4" r="1.0"/><circle cx="243.4" cy="270.2" r="1.0"/><circle cx="234.0" cy="252.3" r="1.0"/><circle cx="237.8" cy="268.0" r="1.0"/><circle cx="246.3" cy="270.8" r="1.0"/></g>
<path d="M196.3 279.5L235 264.6M222.8 302L232.6 275" stroke="#333" stroke-width="0.6" stroke-dasharray="1 1.3" fill="none"/>
<circle cx="203.50" cy="297.90" r="19.6" fill="#fff" stroke="#333" stroke-width="0.6"/>
<path d="M198.2 296.5C196.8 292.8 200.2 289.6 203.4 290.8C205.2 288 209.8 288.2 211.2 290.8C214.6 289.8 217.6 292.8 216.6 296C219 298.2 218.6 302.6 216 304C216.8 307.8 213.4 310.6 210.4 309.4C208.6 312 204 312 202.6 309.6C199.4 310.6 196.4 307.6 197.4 304.4C195 302.4 195.6 298 198.2 296.5Z" fill="#50d830" transform="translate(206.8 300.2) scale(1.1 1.16) translate(-206.8 -300.2)"/>
<path d="M195.6 292.6L203.5 297.6" stroke="#fff" stroke-width="1.6" stroke-linecap="round"/>
<g fill="#dfe4f4" stroke="#8c98c4" stroke-width="0.45"><circle cx="190.3" cy="290.6" r="1.05"/><circle cx="192.4" cy="289.3" r="1.05"/><circle cx="194.5" cy="288.6" r="1.05"/><circle cx="193.6" cy="292.3" r="1.0"/><circle cx="195.2" cy="294.1" r="0.9"/></g>
<text x="207.60" y="305.00" font-size="7.6" text-anchor="middle" font-weight="bold" fill="#fff">HT</text>
<text x="161.50" y="292.40" font-size="7.9" text-anchor="middle">Intact</text>
<text x="161.50" y="301.60" font-size="7.9" text-anchor="middle">PM</text>
<text x="246.90" y="292.40" font-size="7.6" text-anchor="middle" textLength="32.6" lengthAdjust="spacingAndGlyphs">Damaged</text>
<text x="246.90" y="301.60" font-size="7.9" text-anchor="middle">PM</text>
<circle cx="156.40" cy="328.50" r="2.4" fill="#ee4f5c"/>
<circle cx="156.40" cy="344.60" r="2.4" fill="#8050b8"/>
<text x="176.20" y="332.90" font-size="8.9" fill="#111" textLength="98.6" lengthAdjust="spacingAndGlyphs">Permeable Ligand (MPL)</text>
<text x="176.20" y="344.90" font-size="8.9" fill="#111" textLength="105.8" lengthAdjust="spacingAndGlyphs">Impermeable Ligand (MIL)</text>
<defs><linearGradient id="tubeg" x1="0" y1="0" x2="0" y2="1"><stop offset="0" stop-color="#f4f7fa"/><stop offset="0.45" stop-color="#e6edf3"/><stop offset="0.5" stop-color="#d6e3ee"/><stop offset="1" stop-color="#cfdeea"/></linearGradient></defs>
<path d="M490.2 255V293Q490.2 294.6 491.8 294.6H495.2L496.0 300.6H498.6L499.4 294.6H502.6Q504.2 294.6 504.2 293V255Z" fill="url(#tubeg)"/>
<path d="M490.5 255V293M503.9 255V293" stroke="#c3d0dc" stroke-width="0.6" fill="none"/>
<g fill="#2e9a58"><circle cx="493.8" cy="263.2" r="1.0"/><circle cx="497.6" cy="262.6" r="1.0"/><circle cx="494.0" cy="267.0" r="1.0"/><circle cx="499.6" cy="267.8" r="1.0"/><circle cx="496.2" cy="271.4" r="1.0"/><circle cx="500.6" cy="273.8" r="1.0"/><circle cx="494.2" cy="275.2" r="1.0"/><circle cx="498.2" cy="276.6" r="1.0"/><circle cx="501.2" cy="279.4" r="1.0"/><circle cx="495.4" cy="280.8" r="1.0"/><circle cx="499.0" cy="283.0" r="1.0"/><circle cx="497.3" cy="291.2" r="1.0"/><circle cx="497.3" cy="293.6" r="1.0"/><circle cx="497.4" cy="297.2" r="1.0"/></g>
<g fill="#f6b3b6"><circle cx="495.8" cy="265.2" r="1.0"/><circle cx="500.6" cy="262.8" r="1.0"/><circle cx="493.4" cy="271.4" r="1.0"/><circle cx="497.8" cy="269.4" r="1.0"/><circle cx="501.4" cy="270.0" r="1.0"/><circle cx="493.6" cy="279.0" r="1.0"/><circle cx="497.4" cy="279.6" r="1.0"/><circle cx="494.0" cy="284.2" r="1.0"/><circle cx="501.0" cy="284.6" r="1.0"/><circle cx="496.8" cy="286.6" r="1.0"/></g>
<g fill="#4bb060"><circle cx="495.6" cy="301.6" r="0.85"/><circle cx="494.2" cy="304.6" r="0.85"/><circle cx="492.0" cy="307.4" r="0.85"/><circle cx="490.2" cy="310.4" r="0.85"/><circle cx="489.2" cy="313.2" r="0.85"/></g>
<g fill="#f6b3b6"><circle cx="498.8" cy="301.6" r="0.85"/><circle cx="500.6" cy="304.6" r="0.85"/><circle cx="502.4" cy="307.4" r="0.85"/><circle cx="503.6" cy="310.4" r="0.85"/><circle cx="504.8" cy="313.2" r="0.85"/></g>
<rect x="-1.25" y="-4.4" width="2.5" height="8.8" fill="#5c6f94" transform="translate(486.6 309.8) rotate(24)"/>
<rect x="-1.25" y="-4.4" width="2.5" height="8.8" fill="#5c6f94" transform="translate(507.6 309.8) rotate(-24)"/>
<path d="M521.5 281.7H527.9V279.4L534.4 285.0L527.9 290.6V288.3H521.5Z" fill="#1c1c1c"/>
<path d="M581.8 281.7H588.2V279.4L594.7 285.0L588.2 290.6V288.3H581.8Z" fill="#1c1c1c"/>
<path d="M551.2 268.4V294.6L556.4 309.6Q557.7 311.6 559.0 309.6L564.2 294.6V268.4Z" fill="#f1f6fa" stroke="#a9b8c4" stroke-width="0.55"/>
<path d="M551.6 279.9V294.5L553.7 300.4H561.7L563.8 294.5V279.9Z" fill="#a9d3f2"/>
<path d="M551.6 279.9H563.8V281.0H551.6Z" fill="#8fc2ea"/>
<path d="M554.2 300.4L556.7 309.3Q557.7 311.0 558.7 309.3L561.2 300.4Z" fill="#ef7d40"/>
<path d="M553.4 298.3H562.0L561.4 300.6H554.0Z" fill="#fbe3d2"/>
<rect x="551.2" y="271.0" width="13.0" height="1.8" fill="#dce5ec"/>
<path d="M547.6 266.0Q547.6 264.8 548.9 264.8H564.8Q566.0 264.8 566.0 266.0V267.4Q566.0 268.6 564.8 268.6H548.9Q547.6 268.6 547.6 267.4Z" fill="#e6edf2" stroke="#93a5b3" stroke-width="0.55"/>
<path d="M572.5 293.8V304.3L565.0 299.1Z" fill="#f0a63a"/>
<text x="576.60" y="302.20" font-size="8.8" textLength="13.2" lengthAdjust="spacingAndGlyphs">PM</text>
<path d="M611.1 256.6V311.5H685" stroke="#777" stroke-width="0.9" fill="none"/>
<line x1="620.00" y1="269.80" x2="620.00" y2="311.50" stroke="#8a8a8a" stroke-width="0.9"/>
<line x1="630.20" y1="286.20" x2="630.20" y2="311.50" stroke="#8a8a8a" stroke-width="0.9"/>
<line x1="641.00" y1="302.00" x2="641.00" y2="311.50" stroke="#8a8a8a" stroke-width="0.9"/>
<line x1="651.50" y1="300.60" x2="651.50" y2="311.50" stroke="#8a8a8a" stroke-width="0.9"/>
<line x1="662.40" y1="289.50" x2="662.40" y2="311.50" stroke="#8a8a8a" stroke-width="0.9"/>
<line x1="672.90" y1="269.40" x2="672.90" y2="311.50" stroke="#8a8a8a" stroke-width="0.9"/>
<text x="608.30" y="298.40" font-size="6.3" fill="#333" transform="rotate(-90 608.30 298.40)" textLength="28.6" lengthAdjust="spacingAndGlyphs">Intensity</text>
<text x="648.70" y="319.90" font-size="7.6" text-anchor="middle" fill="#444" font-style="italic">m/z</text>
<text x="497.20" y="337.20" font-size="10.4" text-anchor="middle" textLength="60.2" lengthAdjust="spacingAndGlyphs">Sort NL Red+</text>
<text x="498.10" y="350.80" font-size="10.4" text-anchor="middle" textLength="76.2" lengthAdjust="spacingAndGlyphs">cancer cells from</text>
<text x="497.40" y="364.40" font-size="10.4" text-anchor="middle" textLength="46.8" lengthAdjust="spacingAndGlyphs">co-culture</text>
<text x="571.70" y="337.20" font-size="10.4" text-anchor="middle" textLength="14.4" lengthAdjust="spacingAndGlyphs">PM</text>
<text x="572.20" y="350.80" font-size="10.4" text-anchor="middle" textLength="38.4" lengthAdjust="spacingAndGlyphs">isolation</text>
<text x="658.00" y="342.00" font-size="10.4" text-anchor="middle" textLength="41.2" lengthAdjust="spacingAndGlyphs">lipidomic</text>
</svg>
</body></html>
